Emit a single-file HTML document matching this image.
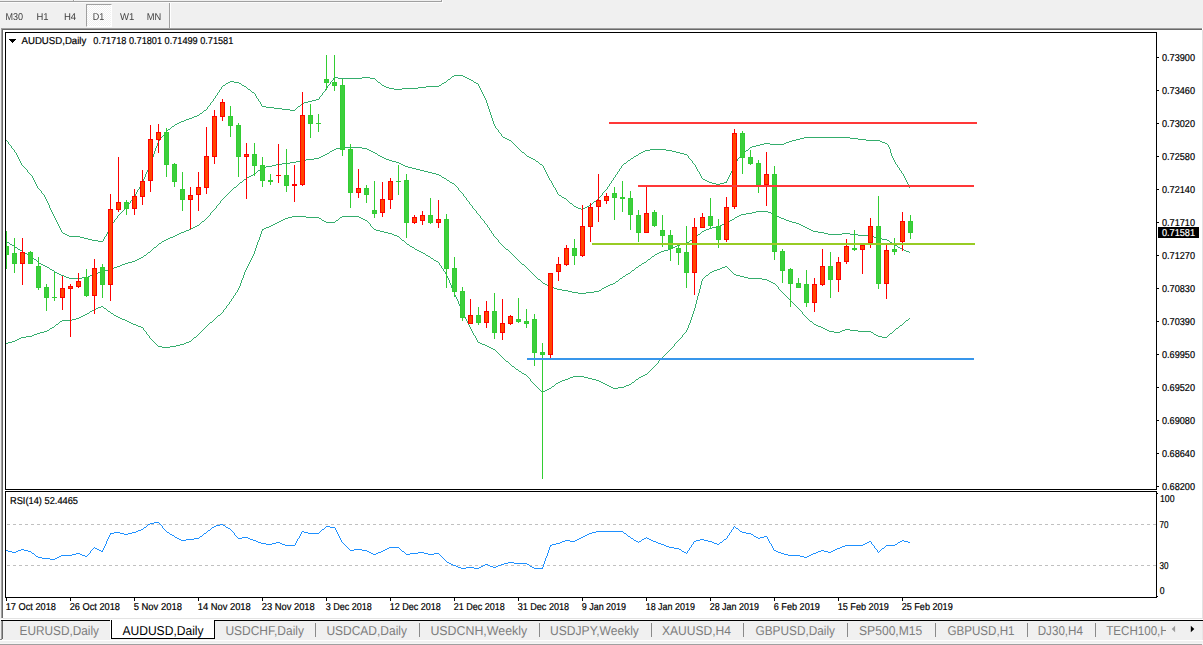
<!DOCTYPE html>
<html><head><meta charset="utf-8"><title>AUDUSD,Daily</title>
<style>
html,body{margin:0;padding:0;}
body{width:1203px;height:645px;overflow:hidden;background:#f0f0f0;position:relative;font-family:"Liberation Sans",sans-serif;}
.a{position:absolute;}
</style></head><body>
<!-- upper toolbar edge -->
<div class="a" style="left:0;top:1px;width:441px;height:1px;background:#a0a0a0"></div>
<div class="a" style="left:0;top:2px;width:443px;height:1px;background:#fbfbfb"></div>
<div class="a" style="left:441px;top:0;width:1px;height:2px;background:#a0a0a0"></div>
<div class="a" style="left:442px;top:0;width:1px;height:3px;background:#fbfbfb"></div>
<div class="a" style="left:73px;top:0;width:1px;height:1px;background:#a0a0a0"></div>
<div class="a" style="left:74px;top:0;width:1px;height:1px;background:#fbfbfb"></div>
<!-- D1 pressed button -->
<div class="a" style="left:86px;top:4px;width:26px;height:23px;background:repeating-conic-gradient(#fff 0% 25%, #f0f0f0 0% 50%) 0 0/2px 2px;box-sizing:border-box;border-top:1px solid #a0a0a0;border-left:1px solid #a0a0a0;border-right:1px solid #fff;border-bottom:1px solid #fff;"></div>
<!-- toolbar separator -->
<div class="a" style="left:169px;top:3px;width:1px;height:25px;background:#a0a0a0"></div>
<div class="a" style="left:170px;top:3px;width:1px;height:25px;background:#fff"></div>
<!-- chart window (sunken) -->
<div class="a" style="left:1px;top:28px;width:1202px;height:590px;background:#a0a0a0"></div>
<div class="a" style="left:2px;top:29px;width:1201px;height:589px;background:#696969"></div>
<div class="a" style="left:3px;top:30px;width:1200px;height:589px;background:#e3e3e3"></div>
<div class="a" style="left:3px;top:30px;width:1199px;height:588px;background:#fff"></div>
<div class="a" style="left:1202px;top:28px;width:1px;height:2px;background:#fff"></div>
<!-- tab bar -->
<div class="a" style="left:0;top:619px;width:1203px;height:1px;background:#fff"></div>
<div class="a" style="left:1px;top:620px;width:1202px;height:1px;background:#000"></div>
<div class="a" style="left:1px;top:621px;width:1px;height:18px;background:#a0a0a0"></div>
<div class="a" style="left:2px;top:621px;width:1px;height:18px;background:#696969"></div>
<div class="a" style="left:0;top:639px;width:2px;height:1px;background:#888"></div>
<div class="a" style="left:0;top:640px;width:1203px;height:1px;background:#fff"></div>
<div class="a" style="left:0;top:643px;width:1203px;height:1px;background:#f6f6f6"></div>
<div class="a" style="left:0;top:644px;width:1202px;height:1px;background:#a0a0a0"></div>
<div class="a" style="left:1202px;top:621px;width:1px;height:19px;background:#e6e6e6"></div>
<!-- active tab -->
<div class="a" style="left:110px;top:620px;width:1px;height:19px;background:#fff"></div>
<div class="a" style="left:111px;top:620px;width:104px;height:19px;background:#fff;box-sizing:border-box;border:1px solid #000;border-top:none;"></div>
<!-- tab separators -->
<div class="a" style="left:315px;top:623px;width:1px;height:14px;background:#8a8a8a"></div><div class="a" style="left:419px;top:623px;width:1px;height:14px;background:#8a8a8a"></div><div class="a" style="left:539px;top:623px;width:1px;height:14px;background:#8a8a8a"></div><div class="a" style="left:651px;top:623px;width:1px;height:14px;background:#8a8a8a"></div><div class="a" style="left:743px;top:623px;width:1px;height:14px;background:#8a8a8a"></div><div class="a" style="left:847px;top:623px;width:1px;height:14px;background:#8a8a8a"></div><div class="a" style="left:935px;top:623px;width:1px;height:14px;background:#8a8a8a"></div><div class="a" style="left:1027px;top:623px;width:1px;height:14px;background:#8a8a8a"></div><div class="a" style="left:1095px;top:623px;width:1px;height:14px;background:#8a8a8a"></div>
<svg class="a" style="left:0;top:0" width="1203" height="645" viewBox="0 0 1203 645">
<defs>
<clipPath id="cm"><rect x="6" y="33" width="1150" height="456"/></clipPath>
<clipPath id="cr"><rect x="6" y="492" width="1150" height="105"/></clipPath>
<clipPath id="ct"><rect x="1100" y="621" width="66" height="18"/></clipPath>
</defs>
<path shape-rendering="crispEdges" d="M9 39h7v1h-7zM10 40h5v1h-5zM11 41h3v1h-3zM12 42h1v1h-1z" fill="#000"/>
<path d="M1190.8 625.8v6.4l3.5-3.2z" fill="#000"/>
<path d="M1175.1 625.8v6.4l-3.4-3.2z" fill="#9c9c9c"/>
<g shape-rendering="crispEdges">
<g clip-path="url(#cm)">
<path d="M6 140h1v1h-1zM7 141h1v1h-1zM8 142h1v2h-1zM9 144h1v1h-1zM10 145h1v1h-1zM11 146h1v2h-1zM12 148h1v1h-1zM13 149h1v1h-1zM14 150h1v2h-1zM15 152h1v1h-1zM16 153h1v2h-1zM17 155h1v2h-1zM18 157h1v2h-1zM19 159h1v2h-1zM20 161h1v2h-1zM21 163h1v2h-1zM22 165h1v1h-1zM23 166h1v1h-1zM24 167h1v1h-1zM25 168h1v1h-1zM26 169h1v1h-1zM27 170h1v2h-1zM28 172h1v1h-1zM29 173h1v1h-1zM30 174h1v1h-1zM31 175h1v1h-1zM32 176h1v2h-1zM33 178h1v2h-1zM34 180h1v2h-1zM35 182h1v2h-1zM36 184h1v2h-1zM37 186h1v2h-1zM38 188h1v1h-1zM39 189h1v1h-1zM40 190h1v1h-1zM41 191h1v2h-1zM42 193h1v1h-1zM43 194h1v1h-1zM44 195h1v2h-1zM45 197h1v2h-1zM46 199h1v2h-1zM47 201h1v2h-1zM48 203h1v2h-1zM49 205h1v3h-1zM50 208h1v2h-1zM51 210h1v2h-1zM52 212h1v2h-1zM53 214h1v2h-1zM54 216h1v2h-1zM55 218h1v2h-1zM56 220h1v2h-1zM57 222h1v2h-1zM58 224h1v2h-1zM59 226h1v2h-1zM60 228h1v2h-1zM61 230h1v2h-1zM62 232h1v1h-1zM63 233h2v1h-2zM65 234h2v1h-2zM67 235h2v1h-2zM69 236h11v1h-11zM80 237h4v1h-4zM84 238h4v1h-4zM88 239h4v1h-4zM92 240h6v1h-6zM98 241h5v1h-5zM103 239h1v2h-1zM104 237h1v2h-1zM105 236h1v1h-1zM106 234h1v2h-1zM107 232h1v2h-1zM108 231h1v1h-1zM109 229h1v2h-1zM110 227h1v2h-1zM111 225h1v2h-1zM112 223h1v2h-1zM113 222h1v1h-1zM114 220h1v2h-1zM115 219h1v1h-1zM116 218h1v1h-1zM117 216h1v2h-1zM118 215h1v1h-1zM119 214h1v1h-1zM120 213h1v1h-1zM121 212h1v1h-1zM122 211h1v1h-1zM123 210h1v1h-1zM124 209h1v1h-1zM125 208h1v1h-1zM126 207h1v1h-1zM127 205h1v2h-1zM128 204h1v1h-1zM129 203h1v1h-1zM130 201h1v2h-1zM131 200h1v1h-1zM132 199h1v1h-1zM133 197h1v2h-1zM134 196h1v1h-1zM135 194h1v2h-1zM136 192h1v2h-1zM137 190h1v2h-1zM138 189h1v1h-1zM139 187h1v2h-1zM140 185h1v2h-1zM141 183h1v2h-1zM142 181h1v2h-1zM143 179h1v2h-1zM144 177h1v2h-1zM145 174h1v3h-1zM146 172h1v2h-1zM147 170h1v2h-1zM148 167h1v3h-1zM149 165h1v2h-1zM150 162h1v3h-1zM151 159h1v3h-1zM152 157h1v2h-1zM153 154h1v3h-1zM154 151h1v3h-1zM155 148h1v3h-1zM156 146h1v2h-1zM157 143h1v3h-1zM158 141h1v2h-1zM159 140h1v1h-1zM160 138h1v2h-1zM161 137h1v1h-1zM162 136h1v1h-1zM163 135h1v1h-1zM164 133h1v2h-1zM165 132h1v1h-1zM166 131h1v1h-1zM167 130h1v1h-1zM168 129h2v1h-2zM170 128h1v1h-1zM171 127h1v1h-1zM172 126h2v1h-2zM174 125h1v1h-1zM175 124h2v1h-2zM177 123h2v1h-2zM179 122h2v1h-2zM181 121h3v1h-3zM184 120h2v1h-2zM186 119h3v1h-3zM189 118h3v1h-3zM192 117h2v1h-2zM194 116h3v1h-3zM197 115h2v1h-2zM199 114h1v1h-1zM200 113h2v1h-2zM202 112h1v1h-1zM203 111h1v1h-1zM204 110h2v1h-2zM206 109h1v1h-1zM207 107h1v2h-1zM208 106h1v1h-1zM209 105h1v1h-1zM210 103h1v2h-1zM211 102h1v1h-1zM212 101h1v1h-1zM213 99h1v2h-1zM214 98h1v1h-1zM215 96h1v2h-1zM216 95h1v1h-1zM217 93h1v2h-1zM218 92h1v1h-1zM219 90h1v2h-1zM220 89h1v1h-1zM221 87h1v2h-1zM222 86h1v1h-1zM223 85h2v1h-2zM225 84h1v1h-1zM226 83h2v1h-2zM228 82h2v1h-2zM230 81h4v1h-4zM234 82h5v1h-5zM239 83h2v1h-2zM241 84h1v1h-1zM242 85h2v1h-2zM244 86h2v1h-2zM246 87h1v1h-1zM247 88h1v1h-1zM248 89h2v1h-2zM250 90h1v1h-1zM251 91h1v1h-1zM252 92h2v1h-2zM254 93h1v1h-1zM255 94h1v2h-1zM256 96h1v2h-1zM257 98h1v1h-1zM258 99h1v2h-1zM259 101h1v1h-1zM260 102h1v2h-1zM261 104h1v2h-1zM262 106h4v1h-4zM266 107h8v1h-8zM274 108h8v1h-8zM282 109h8v1h-8zM290 110h5v1h-5zM295 109h1v1h-1zM296 108h1v1h-1zM297 107h1v1h-1zM298 106h2v1h-2zM300 105h1v1h-1zM301 104h1v1h-1zM302 103h2v1h-2zM304 102h4v1h-4zM308 101h4v1h-4zM312 100h4v1h-4zM316 99h3v1h-3zM319 97h1v2h-1zM320 96h1v1h-1zM321 95h1v1h-1zM322 93h1v2h-1zM323 92h1v1h-1zM324 91h1v1h-1zM325 89h1v2h-1zM326 88h1v1h-1zM327 86h1v2h-1zM328 85h1v1h-1zM329 84h1v1h-1zM330 82h1v2h-1zM331 81h1v1h-1zM332 80h1v1h-1zM333 78h1v2h-1zM334 77h4v1h-4zM338 78h24v1h-24zM362 77h8v1h-8zM370 78h5v1h-5zM375 79h1v1h-1zM376 80h1v1h-1zM377 81h1v1h-1zM378 82h2v1h-2zM380 83h1v1h-1zM381 84h1v1h-1zM382 85h2v1h-2zM384 86h2v1h-2zM386 87h3v1h-3zM389 88h5v1h-5zM394 89h8v1h-8zM402 88h16v1h-16zM418 87h8v1h-8zM426 86h13v1h-13zM439 85h2v1h-2zM441 84h1v1h-1zM442 83h2v1h-2zM444 82h2v1h-2zM446 81h1v1h-1zM447 80h1v1h-1zM448 79h2v1h-2zM450 78h1v1h-1zM451 77h1v1h-1zM452 76h2v1h-2zM454 75h9v1h-9zM463 76h2v1h-2zM465 77h2v1h-2zM467 78h2v1h-2zM469 79h2v1h-2zM471 80h2v1h-2zM473 81h1v1h-1zM474 82h2v1h-2zM476 83h2v1h-2zM478 84h1v2h-1zM479 86h1v2h-1zM480 88h1v2h-1zM481 90h1v2h-1zM482 92h1v2h-1zM483 94h1v2h-1zM484 96h1v2h-1zM485 98h1v2h-1zM486 100h1v3h-1zM487 103h1v3h-1zM488 106h1v3h-1zM489 109h1v3h-1zM490 112h1v3h-1zM491 115h1v3h-1zM492 118h1v3h-1zM493 121h1v3h-1zM494 124h1v2h-1zM495 126h1v2h-1zM496 128h1v1h-1zM497 129h1v1h-1zM498 130h1v2h-1zM499 132h1v1h-1zM500 133h1v1h-1zM501 134h1v2h-1zM502 136h1v1h-1zM503 137h2v1h-2zM505 138h2v1h-2zM507 139h2v1h-2zM509 140h2v1h-2zM511 141h1v1h-1zM512 142h1v1h-1zM513 143h1v1h-1zM514 144h1v1h-1zM515 145h1v1h-1zM516 146h1v1h-1zM517 147h1v1h-1zM518 148h1v1h-1zM519 149h1v1h-1zM520 150h1v1h-1zM521 151h1v1h-1zM522 152h2v1h-2zM524 153h1v1h-1zM525 154h1v1h-1zM526 155h1v1h-1zM527 156h2v1h-2zM529 157h2v1h-2zM531 158h2v1h-2zM533 159h2v1h-2zM535 160h1v1h-1zM536 161h2v1h-2zM538 162h1v1h-1zM539 163h1v1h-1zM540 164h2v1h-2zM542 165h1v1h-1zM543 166h1v2h-1zM544 168h1v2h-1zM545 170h1v2h-1zM546 172h1v2h-1zM547 174h1v2h-1zM548 176h1v2h-1zM549 178h1v2h-1zM550 180h1v1h-1zM551 181h1v2h-1zM552 183h1v2h-1zM553 185h1v2h-1zM554 187h1v1h-1zM555 188h1v2h-1zM556 190h1v2h-1zM557 192h1v2h-1zM558 194h1v1h-1zM559 195h2v1h-2zM561 196h1v1h-1zM562 197h2v1h-2zM564 198h2v1h-2zM566 199h1v1h-1zM567 200h1v1h-1zM568 201h1v1h-1zM569 202h1v1h-1zM570 203h2v1h-2zM572 204h1v1h-1zM573 205h1v1h-1zM574 206h2v1h-2zM576 207h2v1h-2zM578 208h3v1h-3zM581 209h2v1h-2zM583 208h2v1h-2zM585 207h2v1h-2zM587 206h2v1h-2zM589 205h2v1h-2zM591 204h1v1h-1zM592 203h1v1h-1zM593 202h1v1h-1zM594 201h2v1h-2zM596 200h1v1h-1zM597 199h1v1h-1zM598 198h1v1h-1zM599 197h1v1h-1zM600 196h1v1h-1zM601 195h1v1h-1zM602 193h1v2h-1zM603 192h1v1h-1zM604 191h1v1h-1zM605 190h1v1h-1zM606 189h1v1h-1zM607 187h1v2h-1zM608 186h1v1h-1zM609 184h1v2h-1zM610 183h1v1h-1zM611 181h1v2h-1zM612 180h1v1h-1zM613 178h1v2h-1zM614 177h1v1h-1zM615 175h1v2h-1zM616 174h1v1h-1zM617 172h1v2h-1zM618 171h1v1h-1zM619 169h1v2h-1zM620 168h1v1h-1zM621 166h1v2h-1zM622 165h1v1h-1zM623 164h1v1h-1zM624 163h2v1h-2zM626 162h1v1h-1zM627 161h1v1h-1zM628 160h2v1h-2zM630 159h1v1h-1zM631 158h2v1h-2zM633 157h1v1h-1zM634 156h2v1h-2zM636 155h2v1h-2zM638 154h1v1h-1zM639 153h2v1h-2zM641 152h2v1h-2zM643 151h2v1h-2zM645 150h5v1h-5zM650 149h16v1h-16zM666 150h6v1h-6zM672 151h4v1h-4zM676 152h4v1h-4zM680 153h4v1h-4zM684 154h3v1h-3zM687 155h1v1h-1zM688 156h1v2h-1zM689 158h1v1h-1zM690 159h1v1h-1zM691 160h1v1h-1zM692 161h1v2h-1zM693 163h1v1h-1zM694 164h1v1h-1zM695 165h1v2h-1zM696 167h1v2h-1zM697 169h1v2h-1zM698 171h1v1h-1zM699 172h1v2h-1zM700 174h1v2h-1zM701 176h1v2h-1zM702 178h1v1h-1zM703 179h2v1h-2zM705 180h2v1h-2zM707 181h2v1h-2zM709 182h3v1h-3zM712 183h4v1h-4zM716 184h4v1h-4zM720 183h4v1h-4zM724 182h3v1h-3zM726 181h1v1h-1zM727 179h1v2h-1zM728 177h1v2h-1zM729 175h1v2h-1zM730 173h1v2h-1zM731 171h1v2h-1zM732 169h1v2h-1zM733 167h1v2h-1zM734 165h1v2h-1zM735 163h1v2h-1zM736 161h1v2h-1zM737 159h1v2h-1zM738 158h1v1h-1zM739 157h1v1h-1zM740 156h1v1h-1zM741 155h1v1h-1zM742 154h1v1h-1zM743 153h1v1h-1zM744 152h1v1h-1zM745 151h1v1h-1zM746 150h2v1h-2zM748 149h1v1h-1zM749 148h1v1h-1zM750 147h2v1h-2zM752 146h4v1h-4zM756 145h4v1h-4zM760 144h4v1h-4zM764 143h6v1h-6zM770 144h14v1h-14zM784 143h2v1h-2zM786 142h3v1h-3zM789 141h3v1h-3zM792 140h4v1h-4zM796 139h4v1h-4zM800 138h4v1h-4zM804 137h46v1h-46zM850 138h8v1h-8zM858 139h8v1h-8zM866 140h14v1h-14zM880 141h2v1h-2zM882 142h3v1h-3zM885 143h2v1h-2zM887 144h1v1h-1zM888 145h1v2h-1zM889 147h1v2h-1zM890 149h1v4h-1zM891 153h1v3h-1zM892 156h1v2h-1zM893 158h1v2h-1zM894 160h1v2h-1zM895 162h1v2h-1zM896 164h1v1h-1zM897 165h1v2h-1zM898 167h1v1h-1zM899 168h1v2h-1zM900 170h1v1h-1zM901 171h1v2h-1zM902 173h1v1h-1zM903 174h1v2h-1zM904 176h1v2h-1zM905 178h1v2h-1zM906 180h1v2h-1zM907 182h1v2h-1zM908 184h1v3h-1zM909 187h1v1h-1z" fill="#34ad6c"/>
<path d="M6 241h1v1h-1zM7 242h2v1h-2zM9 243h1v1h-1zM10 244h2v1h-2zM12 245h2v1h-2zM14 246h1v1h-1zM15 247h2v1h-2zM17 248h1v1h-1zM18 249h2v1h-2zM20 250h2v1h-2zM22 251h1v1h-1zM23 252h2v1h-2zM25 253h2v1h-2zM27 254h2v1h-2zM29 255h2v1h-2zM31 256h1v1h-1zM32 257h1v1h-1zM33 258h1v1h-1zM34 259h2v1h-2zM36 260h1v1h-1zM37 261h1v1h-1zM38 262h1v1h-1zM39 263h2v1h-2zM41 264h2v1h-2zM43 265h2v1h-2zM45 266h2v1h-2zM47 267h2v1h-2zM49 268h1v1h-1zM50 269h2v1h-2zM52 270h2v1h-2zM54 271h1v1h-1zM55 272h2v1h-2zM57 273h2v1h-2zM59 274h2v1h-2zM61 275h3v1h-3zM64 276h2v1h-2zM66 277h3v1h-3zM69 278h13v1h-13zM82 277h6v1h-6zM88 276h2v1h-2zM90 275h3v1h-3zM93 274h3v1h-3zM96 273h2v1h-2zM98 272h3v1h-3zM101 271h3v1h-3zM104 270h4v1h-4zM108 269h4v1h-4zM112 268h2v1h-2zM114 267h3v1h-3zM117 266h3v1h-3zM120 265h2v1h-2zM122 264h3v1h-3zM125 263h3v1h-3zM128 262h4v1h-4zM132 261h3v1h-3zM135 260h2v1h-2zM137 259h2v1h-2zM139 258h2v1h-2zM141 257h2v1h-2zM143 256h1v1h-1zM144 255h2v1h-2zM146 254h1v1h-1zM147 253h1v1h-1zM148 252h2v1h-2zM150 251h1v1h-1zM151 250h1v1h-1zM152 249h1v1h-1zM153 248h1v1h-1zM154 247h2v1h-2zM156 246h1v1h-1zM157 245h1v1h-1zM158 244h1v1h-1zM159 243h2v1h-2zM161 242h1v1h-1zM162 241h2v1h-2zM164 240h2v1h-2zM166 239h2v1h-2zM168 238h2v1h-2zM170 237h3v1h-3zM173 236h2v1h-2zM175 235h2v1h-2zM177 234h2v1h-2zM179 233h2v1h-2zM181 232h3v1h-3zM184 231h2v1h-2zM186 230h3v1h-3zM189 229h2v1h-2zM191 228h2v1h-2zM193 227h2v1h-2zM195 226h2v1h-2zM197 225h2v1h-2zM199 224h1v1h-1zM200 223h1v1h-1zM201 222h1v1h-1zM202 221h2v1h-2zM204 220h1v1h-1zM205 219h1v1h-1zM206 218h1v1h-1zM207 217h1v1h-1zM208 216h1v1h-1zM209 215h1v1h-1zM210 213h1v2h-1zM211 212h1v1h-1zM212 211h1v1h-1zM213 210h1v1h-1zM214 209h1v1h-1zM215 208h1v1h-1zM216 206h1v2h-1zM217 205h1v1h-1zM218 204h1v1h-1zM219 203h1v1h-1zM220 201h1v2h-1zM221 200h1v1h-1zM222 199h1v1h-1zM223 198h1v1h-1zM224 197h1v1h-1zM225 196h1v1h-1zM226 195h1v1h-1zM227 194h1v1h-1zM228 193h1v1h-1zM229 192h1v1h-1zM230 191h1v1h-1zM231 190h1v1h-1zM232 189h1v1h-1zM233 188h1v1h-1zM234 187h2v1h-2zM236 186h1v1h-1zM237 185h1v1h-1zM238 184h1v1h-1zM239 183h1v1h-1zM240 182h2v1h-2zM242 181h1v1h-1zM243 180h1v1h-1zM244 179h2v1h-2zM246 178h1v1h-1zM247 177h2v1h-2zM249 176h2v1h-2zM251 175h2v1h-2zM253 174h2v1h-2zM255 173h1v1h-1zM256 172h1v1h-1zM257 171h1v1h-1zM258 170h2v1h-2zM260 169h1v1h-1zM261 168h1v1h-1zM262 167h4v1h-4zM266 166h6v1h-6zM272 165h4v1h-4zM276 164h6v1h-6zM282 163h8v1h-8zM290 162h6v1h-6zM296 161h4v1h-4zM300 160h6v1h-6zM306 159h8v1h-8zM314 158h5v1h-5zM319 157h2v1h-2zM321 156h2v1h-2zM323 155h2v1h-2zM325 154h2v1h-2zM327 153h2v1h-2zM329 152h1v1h-1zM330 151h2v1h-2zM332 150h2v1h-2zM334 149h2v1h-2zM336 148h4v1h-4zM340 147h22v1h-22zM362 148h5v1h-5zM367 149h2v1h-2zM369 150h2v1h-2zM371 151h2v1h-2zM373 152h2v1h-2zM375 153h2v1h-2zM377 154h1v1h-1zM378 155h2v1h-2zM380 156h2v1h-2zM382 157h2v1h-2zM384 158h2v1h-2zM386 159h3v1h-3zM389 160h3v1h-3zM392 161h4v1h-4zM396 162h3v1h-3zM399 163h2v1h-2zM401 164h2v1h-2zM403 165h2v1h-2zM405 166h3v1h-3zM408 167h4v1h-4zM412 168h4v1h-4zM416 169h4v1h-4zM420 170h4v1h-4zM424 171h4v1h-4zM428 172h4v1h-4zM432 173h4v1h-4zM436 174h3v1h-3zM439 175h2v1h-2zM441 176h1v1h-1zM442 177h2v1h-2zM444 178h2v1h-2zM446 179h1v1h-1zM447 180h2v1h-2zM449 181h1v1h-1zM450 182h2v1h-2zM452 183h2v1h-2zM454 184h1v1h-1zM455 185h1v1h-1zM456 186h1v1h-1zM457 187h1v1h-1zM458 188h1v2h-1zM459 190h1v1h-1zM460 191h1v1h-1zM461 192h1v1h-1zM462 193h1v1h-1zM463 194h1v2h-1zM464 196h1v1h-1zM465 197h1v1h-1zM466 198h1v2h-1zM467 200h1v1h-1zM468 201h1v1h-1zM469 202h1v2h-1zM470 204h1v1h-1zM471 205h1v1h-1zM472 206h1v2h-1zM473 208h1v1h-1zM474 209h1v1h-1zM475 210h1v1h-1zM476 211h1v2h-1zM477 213h1v1h-1zM478 214h1v1h-1zM479 215h1v1h-1zM480 216h1v2h-1zM481 218h1v1h-1zM482 219h1v1h-1zM483 220h1v1h-1zM484 221h1v2h-1zM485 223h1v1h-1zM486 224h1v1h-1zM487 225h1v2h-1zM488 227h1v1h-1zM489 228h1v2h-1zM490 230h1v1h-1zM491 231h1v2h-1zM492 233h1v1h-1zM493 234h1v2h-1zM494 236h1v1h-1zM495 237h1v1h-1zM496 238h1v1h-1zM497 239h1v1h-1zM498 240h1v2h-1zM499 242h1v1h-1zM500 243h1v1h-1zM501 244h1v1h-1zM502 245h1v1h-1zM503 246h1v1h-1zM504 247h1v1h-1zM505 248h1v1h-1zM506 249h2v1h-2zM508 250h1v1h-1zM509 251h1v1h-1zM510 252h1v1h-1zM511 253h1v1h-1zM512 254h1v1h-1zM513 255h1v1h-1zM514 256h1v1h-1zM515 257h1v1h-1zM516 258h1v1h-1zM517 259h1v1h-1zM518 260h1v1h-1zM519 261h1v1h-1zM520 262h1v1h-1zM521 263h1v1h-1zM522 264h2v1h-2zM524 265h1v1h-1zM525 266h1v1h-1zM526 267h1v1h-1zM527 268h1v1h-1zM528 269h1v1h-1zM529 270h1v1h-1zM530 271h1v1h-1zM531 272h1v1h-1zM532 273h1v1h-1zM533 274h1v1h-1zM534 275h1v1h-1zM535 276h1v1h-1zM536 277h1v1h-1zM537 278h1v1h-1zM538 279h2v1h-2zM540 280h1v1h-1zM541 281h1v1h-1zM542 282h1v1h-1zM543 283h2v1h-2zM545 284h2v1h-2zM547 285h2v1h-2zM549 286h3v1h-3zM552 287h2v1h-2zM554 288h3v1h-3zM557 289h5v1h-5zM562 290h6v1h-6zM568 291h4v1h-4zM572 292h6v1h-6zM578 293h8v1h-8zM586 292h8v1h-8zM594 291h5v1h-5zM599 290h2v1h-2zM601 289h1v1h-1zM602 288h2v1h-2zM604 287h2v1h-2zM606 286h2v1h-2zM608 285h2v1h-2zM610 284h3v1h-3zM613 283h2v1h-2zM615 282h1v1h-1zM616 281h2v1h-2zM618 280h1v1h-1zM619 279h1v1h-1zM620 278h2v1h-2zM622 277h1v1h-1zM623 276h2v1h-2zM625 275h1v1h-1zM626 274h2v1h-2zM628 273h2v1h-2zM630 272h1v1h-1zM631 271h1v1h-1zM632 270h2v1h-2zM634 269h1v1h-1zM635 268h1v1h-1zM636 267h2v1h-2zM638 266h1v1h-1zM639 265h2v1h-2zM641 264h1v1h-1zM642 263h2v1h-2zM644 262h2v1h-2zM646 261h1v1h-1zM647 260h1v1h-1zM648 259h2v1h-2zM650 258h1v1h-1zM651 257h1v1h-1zM652 256h2v1h-2zM654 255h1v1h-1zM655 254h2v1h-2zM657 253h2v1h-2zM659 252h2v1h-2zM661 251h3v1h-3zM664 250h4v1h-4zM668 249h3v1h-3zM671 248h2v1h-2zM673 247h2v1h-2zM675 246h2v1h-2zM677 245h3v1h-3zM680 244h4v1h-4zM684 243h3v1h-3zM687 242h2v1h-2zM689 241h1v1h-1zM690 240h2v1h-2zM692 239h2v1h-2zM694 238h1v1h-1zM695 237h1v1h-1zM696 236h1v1h-1zM697 235h1v1h-1zM698 234h2v1h-2zM700 233h1v1h-1zM701 232h1v1h-1zM702 231h2v1h-2zM704 230h2v1h-2zM706 229h3v1h-3zM709 228h3v1h-3zM712 227h4v1h-4zM716 226h4v1h-4zM720 225h2v1h-2zM722 224h3v1h-3zM725 223h2v1h-2zM727 222h2v1h-2zM729 221h1v1h-1zM730 220h2v1h-2zM732 219h2v1h-2zM734 218h1v1h-1zM735 217h2v1h-2zM737 216h2v1h-2zM739 215h2v1h-2zM741 214h5v1h-5zM746 213h6v1h-6zM752 212h4v1h-4zM756 211h12v1h-12zM768 212h3v1h-3zM771 213h2v1h-2zM773 214h2v1h-2zM775 215h2v1h-2zM777 216h2v1h-2zM779 217h2v1h-2zM781 218h3v1h-3zM784 219h2v1h-2zM786 220h3v1h-3zM789 221h3v1h-3zM792 222h4v1h-4zM796 223h3v1h-3zM799 224h2v1h-2zM801 225h2v1h-2zM803 226h2v1h-2zM805 227h2v1h-2zM807 228h2v1h-2zM809 229h2v1h-2zM811 230h2v1h-2zM813 231h5v1h-5zM818 232h6v1h-6zM824 233h4v1h-4zM828 234h14v1h-14zM842 233h8v1h-8zM850 234h8v1h-8zM858 235h14v1h-14zM872 236h2v1h-2zM874 237h3v1h-3zM877 238h5v1h-5zM882 239h5v1h-5zM887 240h2v1h-2zM889 241h1v1h-1zM890 242h2v1h-2zM892 243h2v1h-2zM894 244h1v1h-1zM895 245h2v1h-2zM897 246h1v1h-1zM898 247h2v1h-2zM900 248h2v1h-2zM902 249h2v1h-2zM904 250h2v1h-2zM906 251h3v1h-3zM909 252h1v1h-1z" fill="#34ad6c"/>
<path d="M6 343h2v1h-2zM8 342h4v1h-4zM12 341h3v1h-3zM15 340h2v1h-2zM17 339h2v1h-2zM19 338h2v1h-2zM21 337h5v1h-5zM26 336h6v1h-6zM32 335h2v1h-2zM34 334h3v1h-3zM37 333h3v1h-3zM40 332h4v1h-4zM44 331h3v1h-3zM47 330h2v1h-2zM49 329h1v1h-1zM50 328h2v1h-2zM52 327h2v1h-2zM54 326h1v1h-1zM55 325h1v1h-1zM56 324h2v1h-2zM58 323h1v1h-1zM59 322h1v1h-1zM60 321h2v1h-2zM62 320h10v1h-10zM72 319h4v1h-4zM76 318h3v1h-3zM79 317h2v1h-2zM81 316h2v1h-2zM83 315h2v1h-2zM85 314h2v1h-2zM87 313h2v1h-2zM89 312h1v1h-1zM90 311h2v1h-2zM92 310h2v1h-2zM94 309h2v1h-2zM96 308h2v1h-2zM98 307h3v1h-3zM101 306h2v1h-2zM103 307h1v1h-1zM104 308h2v1h-2zM106 309h1v1h-1zM107 310h1v1h-1zM108 311h2v1h-2zM110 312h1v1h-1zM111 313h2v1h-2zM113 314h1v1h-1zM114 315h2v1h-2zM116 316h2v1h-2zM118 317h2v1h-2zM120 318h2v1h-2zM122 319h3v1h-3zM125 320h2v1h-2zM127 321h2v1h-2zM129 322h2v1h-2zM131 323h2v1h-2zM133 324h3v1h-3zM136 325h2v1h-2zM138 326h3v1h-3zM141 327h2v1h-2zM143 328h1v2h-1zM144 330h1v1h-1zM145 331h1v1h-1zM146 332h1v2h-1zM147 334h1v1h-1zM148 335h1v1h-1zM149 336h1v2h-1zM150 338h1v1h-1zM151 339h1v1h-1zM152 340h1v1h-1zM153 341h1v1h-1zM154 342h1v1h-1zM155 343h1v1h-1zM156 344h1v1h-1zM157 345h1v1h-1zM158 346h4v1h-4zM162 347h8v1h-8zM170 346h6v1h-6zM176 345h4v1h-4zM180 344h4v1h-4zM184 343h2v1h-2zM186 342h3v1h-3zM189 341h2v1h-2zM191 340h1v1h-1zM192 339h1v1h-1zM193 338h1v1h-1zM194 337h2v1h-2zM196 336h1v1h-1zM197 335h1v1h-1zM198 334h1v1h-1zM199 333h1v1h-1zM200 332h1v1h-1zM201 331h1v1h-1zM202 330h1v1h-1zM203 329h1v1h-1zM204 328h1v1h-1zM205 327h1v1h-1zM206 326h1v1h-1zM207 325h1v1h-1zM208 324h1v1h-1zM209 323h1v1h-1zM210 322h2v1h-2zM212 321h1v1h-1zM213 320h1v1h-1zM214 319h1v1h-1zM215 318h1v1h-1zM216 317h1v1h-1zM217 316h1v1h-1zM218 315h2v1h-2zM220 314h1v1h-1zM221 313h1v1h-1zM222 312h1v1h-1zM223 310h1v2h-1zM224 309h1v1h-1zM225 308h1v1h-1zM226 306h1v2h-1zM227 305h1v1h-1zM228 304h1v1h-1zM229 302h1v2h-1zM230 301h1v1h-1zM231 299h1v2h-1zM232 298h1v1h-1zM233 296h1v2h-1zM234 295h1v1h-1zM235 293h1v2h-1zM236 292h1v1h-1zM237 290h1v2h-1zM238 288h1v2h-1zM239 286h1v2h-1zM240 283h1v3h-1zM241 280h1v3h-1zM242 278h1v2h-1zM243 275h1v3h-1zM244 272h1v3h-1zM245 270h1v2h-1zM246 268h1v2h-1zM247 266h1v2h-1zM248 264h1v2h-1zM249 262h1v2h-1zM250 260h1v2h-1zM251 258h1v2h-1zM252 256h1v2h-1zM253 254h1v2h-1zM254 251h1v3h-1zM255 248h1v3h-1zM256 245h1v3h-1zM257 242h1v3h-1zM258 240h1v2h-1zM259 237h1v3h-1zM260 234h1v3h-1zM261 231h1v3h-1zM262 229h2v1h-2zM262 230h1v1h-1zM264 228h2v1h-2zM266 227h3v1h-3zM269 226h2v1h-2zM271 225h2v1h-2zM273 224h2v1h-2zM275 223h2v1h-2zM277 222h2v1h-2zM279 221h2v1h-2zM281 220h2v1h-2zM283 219h2v1h-2zM285 218h3v1h-3zM288 217h4v1h-4zM292 216h14v1h-14zM306 217h13v1h-13zM319 218h2v1h-2zM321 219h1v1h-1zM322 220h2v1h-2zM324 221h2v1h-2zM326 222h9v1h-9zM335 221h1v1h-1zM336 220h2v1h-2zM338 219h1v1h-1zM339 218h1v1h-1zM340 217h2v1h-2zM342 216h17v1h-17zM359 217h2v1h-2zM361 218h2v1h-2zM363 219h2v1h-2zM365 220h2v1h-2zM367 221h1v1h-1zM368 222h1v1h-1zM369 223h1v1h-1zM370 224h1v2h-1zM371 226h1v1h-1zM372 227h1v1h-1zM373 228h1v1h-1zM374 229h2v1h-2zM376 230h4v1h-4zM380 231h4v1h-4zM384 232h4v1h-4zM388 233h4v1h-4zM392 234h2v1h-2zM394 235h3v1h-3zM397 236h2v1h-2zM399 237h1v1h-1zM400 238h1v1h-1zM401 239h1v1h-1zM402 240h2v1h-2zM404 241h1v1h-1zM405 242h1v1h-1zM406 243h1v1h-1zM407 244h2v1h-2zM409 245h1v1h-1zM410 246h2v1h-2zM412 247h2v1h-2zM414 248h1v1h-1zM415 249h2v1h-2zM417 250h2v1h-2zM419 251h2v1h-2zM421 252h2v1h-2zM423 253h2v1h-2zM425 254h1v1h-1zM426 255h2v1h-2zM428 256h2v1h-2zM430 257h1v1h-1zM431 258h2v1h-2zM433 259h1v1h-1zM434 260h2v1h-2zM436 261h2v1h-2zM438 262h1v1h-1zM439 263h1v2h-1zM440 265h1v1h-1zM441 266h1v2h-1zM442 268h1v1h-1zM443 269h1v2h-1zM444 271h1v1h-1zM445 272h1v2h-1zM446 274h1v2h-1zM447 276h1v2h-1zM448 278h1v2h-1zM449 280h1v3h-1zM450 283h1v2h-1zM451 285h1v3h-1zM452 288h1v2h-1zM453 290h1v2h-1zM454 292h1v3h-1zM455 295h1v2h-1zM456 297h1v2h-1zM457 299h1v2h-1zM458 301h1v3h-1zM459 304h1v2h-1zM460 306h1v2h-1zM461 308h1v2h-1zM462 310h1v3h-1zM463 313h1v2h-1zM464 315h1v2h-1zM465 317h1v2h-1zM466 319h1v2h-1zM467 321h1v2h-1zM468 323h1v2h-1zM469 325h1v2h-1zM470 327h1v2h-1zM471 329h1v2h-1zM472 331h1v2h-1zM473 333h1v2h-1zM474 335h1v1h-1zM475 336h1v2h-1zM476 338h1v2h-1zM477 340h1v2h-1zM478 342h2v1h-2zM480 343h2v1h-2zM482 344h3v1h-3zM485 345h2v1h-2zM487 346h2v1h-2zM489 347h2v1h-2zM491 348h2v1h-2zM493 349h2v1h-2zM495 350h1v1h-1zM496 351h1v1h-1zM497 352h1v1h-1zM498 353h1v1h-1zM499 354h1v1h-1zM500 355h1v1h-1zM501 356h1v1h-1zM502 357h1v1h-1zM503 358h1v1h-1zM504 359h1v1h-1zM505 360h1v1h-1zM506 361h2v1h-2zM508 362h1v1h-1zM509 363h1v1h-1zM510 364h1v1h-1zM511 365h1v1h-1zM512 366h2v1h-2zM514 367h1v1h-1zM515 368h1v1h-1zM516 369h2v1h-2zM518 370h1v1h-1zM519 371h2v1h-2zM521 372h1v1h-1zM522 373h2v1h-2zM524 374h2v1h-2zM526 375h1v1h-1zM527 376h1v1h-1zM528 377h1v1h-1zM529 378h1v1h-1zM530 379h1v2h-1zM531 381h1v1h-1zM532 382h1v1h-1zM533 383h1v1h-1zM534 384h1v1h-1zM535 385h1v1h-1zM536 386h1v1h-1zM537 387h1v1h-1zM538 388h1v1h-1zM539 389h1v1h-1zM540 390h1v1h-1zM541 391h1v1h-1zM542 392h1v1h-1zM543 391h2v1h-2zM545 390h2v1h-2zM547 389h2v1h-2zM549 388h2v1h-2zM551 387h1v1h-1zM552 386h2v1h-2zM554 385h1v1h-1zM555 384h1v1h-1zM556 383h2v1h-2zM558 382h2v1h-2zM560 381h2v1h-2zM562 380h3v1h-3zM565 379h3v1h-3zM568 378h2v1h-2zM570 377h3v1h-3zM573 376h11v1h-11zM584 377h4v1h-4zM588 378h4v1h-4zM592 379h4v1h-4zM596 380h3v1h-3zM599 381h2v1h-2zM601 382h2v1h-2zM603 383h2v1h-2zM605 384h2v1h-2zM607 385h2v1h-2zM609 386h2v1h-2zM611 387h2v1h-2zM613 388h5v1h-5zM618 387h6v1h-6zM624 386h2v1h-2zM626 385h3v1h-3zM629 384h2v1h-2zM631 383h1v1h-1zM632 382h2v1h-2zM634 381h1v1h-1zM635 380h1v1h-1zM636 379h2v1h-2zM638 378h1v1h-1zM639 377h2v1h-2zM641 376h2v1h-2zM643 375h2v1h-2zM645 374h2v1h-2zM647 373h1v1h-1zM648 372h1v1h-1zM649 371h1v1h-1zM650 370h1v1h-1zM651 369h1v1h-1zM652 368h1v1h-1zM653 367h1v1h-1zM654 366h1v1h-1zM655 365h1v1h-1zM656 364h1v1h-1zM657 363h1v1h-1zM658 361h1v2h-1zM659 360h1v1h-1zM660 359h1v1h-1zM661 358h1v1h-1zM662 357h1v1h-1zM663 356h1v1h-1zM664 355h1v1h-1zM665 354h1v1h-1zM666 353h1v1h-1zM667 352h1v1h-1zM668 351h1v1h-1zM669 350h1v1h-1zM670 349h1v1h-1zM671 348h1v1h-1zM672 347h1v1h-1zM673 346h1v1h-1zM674 344h1v2h-1zM675 343h1v1h-1zM676 342h1v1h-1zM677 341h1v1h-1zM678 340h1v1h-1zM679 339h1v1h-1zM680 338h1v1h-1zM681 337h1v1h-1zM682 335h1v2h-1zM683 334h1v1h-1zM684 333h1v1h-1zM685 332h1v1h-1zM686 330h1v2h-1zM687 328h1v2h-1zM688 325h1v3h-1zM689 323h1v2h-1zM690 320h1v3h-1zM691 317h1v3h-1zM692 314h1v3h-1zM693 311h1v3h-1zM694 308h1v3h-1zM695 304h1v4h-1zM696 300h1v4h-1zM697 296h1v4h-1zM698 293h1v3h-1zM699 289h1v4h-1zM700 285h1v4h-1zM701 281h1v4h-1zM702 279h1v2h-1zM703 278h1v1h-1zM704 277h1v1h-1zM705 276h1v1h-1zM706 275h2v1h-2zM708 274h1v1h-1zM709 273h1v1h-1zM710 272h2v1h-2zM712 271h2v1h-2zM714 270h3v1h-3zM717 269h3v1h-3zM720 268h2v1h-2zM722 267h3v1h-3zM725 266h2v1h-2zM727 267h1v1h-1zM728 268h1v1h-1zM729 269h1v1h-1zM730 270h1v1h-1zM731 271h1v1h-1zM732 272h1v1h-1zM733 273h1v1h-1zM734 274h2v1h-2zM736 275h4v1h-4zM740 276h4v1h-4zM744 277h4v1h-4zM748 278h14v1h-14zM762 279h5v1h-5zM767 280h2v1h-2zM769 281h2v1h-2zM771 282h2v1h-2zM773 283h2v1h-2zM775 284h1v1h-1zM776 285h1v1h-1zM777 286h1v1h-1zM778 287h1v2h-1zM779 289h1v1h-1zM780 290h1v1h-1zM781 291h1v1h-1zM782 292h1v1h-1zM783 293h1v1h-1zM784 294h1v1h-1zM785 295h1v1h-1zM786 296h1v1h-1zM787 297h1v1h-1zM788 298h1v1h-1zM789 299h1v1h-1zM790 300h1v1h-1zM791 301h1v1h-1zM792 302h1v1h-1zM793 303h1v1h-1zM794 304h1v1h-1zM795 305h1v1h-1zM796 306h1v1h-1zM797 307h1v1h-1zM798 308h1v1h-1zM799 309h1v1h-1zM800 310h1v1h-1zM801 311h1v1h-1zM802 312h1v2h-1zM803 314h1v1h-1zM804 315h1v1h-1zM805 316h1v1h-1zM806 317h1v1h-1zM807 318h1v1h-1zM808 319h1v1h-1zM809 320h1v1h-1zM810 321h2v1h-2zM812 322h1v1h-1zM813 323h1v1h-1zM814 324h2v1h-2zM816 325h2v1h-2zM818 326h3v1h-3zM821 327h2v1h-2zM823 328h2v1h-2zM825 329h2v1h-2zM827 330h2v1h-2zM829 331h5v1h-5zM834 332h6v1h-6zM840 331h2v1h-2zM842 330h3v1h-3zM845 329h5v1h-5zM850 330h8v1h-8zM858 331h13v1h-13zM871 332h2v1h-2zM873 333h1v1h-1zM874 334h2v1h-2zM876 335h2v1h-2zM878 336h4v1h-4zM882 337h5v1h-5zM887 336h1v1h-1zM888 335h1v1h-1zM889 334h1v1h-1zM890 333h2v1h-2zM892 332h1v1h-1zM893 331h1v1h-1zM894 330h1v1h-1zM895 329h1v1h-1zM896 328h2v1h-2zM898 327h1v1h-1zM899 326h1v1h-1zM900 325h2v1h-2zM902 324h1v1h-1zM903 323h1v1h-1zM904 322h1v1h-1zM905 321h1v1h-1zM906 320h2v1h-2zM908 319h1v1h-1zM909 318h1v1h-1z" fill="#34ad6c"/>
<rect x="6" y="231" width="1" height="38" fill="#32cd32"/>
<rect x="4" y="246" width="5" height="9" fill="#32cd32"/>
<rect x="5" y="247" width="3" height="7" fill="#3ccf3c"/>
<rect x="14" y="238" width="1" height="35" fill="#32cd32"/>
<rect x="12" y="253" width="5" height="11" fill="#32cd32"/>
<rect x="13" y="254" width="3" height="9" fill="#3ccf3c"/>
<rect x="22" y="238" width="1" height="47" fill="#ff0000"/>
<rect x="20" y="252" width="5" height="12" fill="#ff0000"/>
<rect x="21" y="253" width="3" height="10" fill="#ff4500"/>
<rect x="30" y="251" width="1" height="13" fill="#32cd32"/>
<rect x="28" y="252" width="5" height="12" fill="#32cd32"/>
<rect x="29" y="253" width="3" height="10" fill="#3ccf3c"/>
<rect x="38" y="257" width="1" height="33" fill="#32cd32"/>
<rect x="36" y="266" width="5" height="22" fill="#32cd32"/>
<rect x="37" y="267" width="3" height="20" fill="#3ccf3c"/>
<rect x="46" y="284" width="1" height="27" fill="#32cd32"/>
<rect x="44" y="287" width="5" height="11" fill="#32cd32"/>
<rect x="45" y="288" width="3" height="9" fill="#3ccf3c"/>
<rect x="54" y="272" width="1" height="29" fill="#32cd32"/>
<rect x="52" y="297" width="5" height="1" fill="#32cd32"/>
<rect x="62" y="276" width="1" height="34" fill="#ff0000"/>
<rect x="60" y="288" width="5" height="10" fill="#ff0000"/>
<rect x="61" y="289" width="3" height="8" fill="#ff4500"/>
<rect x="70" y="284" width="1" height="53" fill="#ff0000"/>
<rect x="68" y="286" width="5" height="3" fill="#ff0000"/>
<rect x="69" y="287" width="3" height="1" fill="#ff4500"/>
<rect x="78" y="273" width="1" height="15" fill="#ff0000"/>
<rect x="76" y="281" width="5" height="6" fill="#ff0000"/>
<rect x="77" y="282" width="3" height="4" fill="#ff4500"/>
<rect x="86" y="269" width="1" height="28" fill="#32cd32"/>
<rect x="84" y="277" width="5" height="19" fill="#32cd32"/>
<rect x="85" y="278" width="3" height="17" fill="#3ccf3c"/>
<rect x="94" y="259" width="1" height="55" fill="#ff0000"/>
<rect x="92" y="268" width="5" height="28" fill="#ff0000"/>
<rect x="93" y="269" width="3" height="26" fill="#ff4500"/>
<rect x="102" y="264" width="1" height="34" fill="#32cd32"/>
<rect x="100" y="267" width="5" height="18" fill="#32cd32"/>
<rect x="101" y="268" width="3" height="16" fill="#3ccf3c"/>
<rect x="110" y="194" width="1" height="107" fill="#ff0000"/>
<rect x="108" y="209" width="5" height="76" fill="#ff0000"/>
<rect x="109" y="210" width="3" height="74" fill="#ff4500"/>
<rect x="118" y="157" width="1" height="55" fill="#ff0000"/>
<rect x="116" y="202" width="5" height="8" fill="#ff0000"/>
<rect x="117" y="203" width="3" height="6" fill="#ff4500"/>
<rect x="126" y="200" width="1" height="15" fill="#32cd32"/>
<rect x="124" y="202" width="5" height="7" fill="#32cd32"/>
<rect x="125" y="203" width="3" height="5" fill="#3ccf3c"/>
<rect x="134" y="189" width="1" height="26" fill="#ff0000"/>
<rect x="132" y="196" width="5" height="13" fill="#ff0000"/>
<rect x="133" y="197" width="3" height="11" fill="#ff4500"/>
<rect x="142" y="170" width="1" height="35" fill="#ff0000"/>
<rect x="140" y="181" width="5" height="16" fill="#ff0000"/>
<rect x="141" y="182" width="3" height="14" fill="#ff4500"/>
<rect x="150" y="125" width="1" height="67" fill="#ff0000"/>
<rect x="148" y="139" width="5" height="42" fill="#ff0000"/>
<rect x="149" y="140" width="3" height="40" fill="#ff4500"/>
<rect x="158" y="124" width="1" height="29" fill="#ff0000"/>
<rect x="156" y="132" width="5" height="8" fill="#ff0000"/>
<rect x="157" y="133" width="3" height="6" fill="#ff4500"/>
<rect x="166" y="128" width="1" height="49" fill="#32cd32"/>
<rect x="164" y="132" width="5" height="33" fill="#32cd32"/>
<rect x="165" y="133" width="3" height="31" fill="#3ccf3c"/>
<rect x="174" y="163" width="1" height="24" fill="#32cd32"/>
<rect x="172" y="164" width="5" height="18" fill="#32cd32"/>
<rect x="173" y="165" width="3" height="16" fill="#3ccf3c"/>
<rect x="182" y="172" width="1" height="39" fill="#32cd32"/>
<rect x="180" y="189" width="5" height="11" fill="#32cd32"/>
<rect x="181" y="190" width="3" height="9" fill="#3ccf3c"/>
<rect x="190" y="187" width="1" height="42" fill="#ff0000"/>
<rect x="188" y="195" width="5" height="5" fill="#ff0000"/>
<rect x="189" y="196" width="3" height="3" fill="#ff4500"/>
<rect x="198" y="172" width="1" height="39" fill="#ff0000"/>
<rect x="196" y="187" width="5" height="8" fill="#ff0000"/>
<rect x="197" y="188" width="3" height="6" fill="#ff4500"/>
<rect x="206" y="127" width="1" height="67" fill="#ff0000"/>
<rect x="204" y="156" width="5" height="32" fill="#ff0000"/>
<rect x="205" y="157" width="3" height="30" fill="#ff4500"/>
<rect x="214" y="110" width="1" height="54" fill="#ff0000"/>
<rect x="212" y="116" width="5" height="41" fill="#ff0000"/>
<rect x="213" y="117" width="3" height="39" fill="#ff4500"/>
<rect x="222" y="99" width="1" height="22" fill="#ff0000"/>
<rect x="220" y="102" width="5" height="15" fill="#ff0000"/>
<rect x="221" y="103" width="3" height="13" fill="#ff4500"/>
<rect x="230" y="106" width="1" height="31" fill="#32cd32"/>
<rect x="228" y="116" width="5" height="10" fill="#32cd32"/>
<rect x="229" y="117" width="3" height="8" fill="#3ccf3c"/>
<rect x="238" y="123" width="1" height="54" fill="#32cd32"/>
<rect x="236" y="125" width="5" height="32" fill="#32cd32"/>
<rect x="237" y="126" width="3" height="30" fill="#3ccf3c"/>
<rect x="246" y="143" width="1" height="56" fill="#ff0000"/>
<rect x="244" y="154" width="5" height="3" fill="#ff0000"/>
<rect x="245" y="155" width="3" height="1" fill="#ff4500"/>
<rect x="254" y="143" width="1" height="33" fill="#32cd32"/>
<rect x="252" y="154" width="5" height="12" fill="#32cd32"/>
<rect x="253" y="155" width="3" height="10" fill="#3ccf3c"/>
<rect x="262" y="157" width="1" height="30" fill="#32cd32"/>
<rect x="260" y="165" width="5" height="16" fill="#32cd32"/>
<rect x="261" y="166" width="3" height="14" fill="#3ccf3c"/>
<rect x="270" y="174" width="1" height="11" fill="#32cd32"/>
<rect x="268" y="180" width="5" height="2" fill="#32cd32"/>
<rect x="278" y="144" width="1" height="39" fill="#ff0000"/>
<rect x="276" y="175" width="5" height="1" fill="#ff0000"/>
<rect x="286" y="149" width="1" height="43" fill="#32cd32"/>
<rect x="284" y="175" width="5" height="11" fill="#32cd32"/>
<rect x="285" y="176" width="3" height="9" fill="#3ccf3c"/>
<rect x="294" y="165" width="1" height="37" fill="#ff0000"/>
<rect x="292" y="184" width="5" height="2" fill="#ff0000"/>
<rect x="302" y="92" width="1" height="94" fill="#ff0000"/>
<rect x="300" y="115" width="5" height="70" fill="#ff0000"/>
<rect x="301" y="116" width="3" height="68" fill="#ff4500"/>
<rect x="310" y="104" width="1" height="34" fill="#32cd32"/>
<rect x="308" y="115" width="5" height="9" fill="#32cd32"/>
<rect x="309" y="116" width="3" height="7" fill="#3ccf3c"/>
<rect x="318" y="114" width="1" height="18" fill="#32cd32"/>
<rect x="316" y="123" width="5" height="1" fill="#32cd32"/>
<rect x="326" y="55" width="1" height="35" fill="#32cd32"/>
<rect x="324" y="79" width="5" height="4" fill="#32cd32"/>
<rect x="325" y="80" width="3" height="2" fill="#3ccf3c"/>
<rect x="334" y="55" width="1" height="36" fill="#32cd32"/>
<rect x="332" y="82" width="5" height="4" fill="#32cd32"/>
<rect x="333" y="83" width="3" height="2" fill="#3ccf3c"/>
<rect x="342" y="79" width="1" height="77" fill="#32cd32"/>
<rect x="340" y="85" width="5" height="65" fill="#32cd32"/>
<rect x="341" y="86" width="3" height="63" fill="#3ccf3c"/>
<rect x="350" y="144" width="1" height="64" fill="#32cd32"/>
<rect x="348" y="149" width="5" height="44" fill="#32cd32"/>
<rect x="349" y="150" width="3" height="42" fill="#3ccf3c"/>
<rect x="358" y="169" width="1" height="29" fill="#ff0000"/>
<rect x="356" y="188" width="5" height="5" fill="#ff0000"/>
<rect x="357" y="189" width="3" height="3" fill="#ff4500"/>
<rect x="366" y="185" width="1" height="18" fill="#32cd32"/>
<rect x="364" y="188" width="5" height="7" fill="#32cd32"/>
<rect x="365" y="189" width="3" height="5" fill="#3ccf3c"/>
<rect x="374" y="181" width="1" height="37" fill="#32cd32"/>
<rect x="372" y="210" width="5" height="4" fill="#32cd32"/>
<rect x="373" y="211" width="3" height="2" fill="#3ccf3c"/>
<rect x="382" y="182" width="1" height="35" fill="#ff0000"/>
<rect x="380" y="199" width="5" height="14" fill="#ff0000"/>
<rect x="381" y="200" width="3" height="12" fill="#ff4500"/>
<rect x="390" y="178" width="1" height="31" fill="#ff0000"/>
<rect x="388" y="181" width="5" height="19" fill="#ff0000"/>
<rect x="389" y="182" width="3" height="17" fill="#ff4500"/>
<rect x="398" y="165" width="1" height="30" fill="#32cd32"/>
<rect x="396" y="181" width="5" height="1" fill="#32cd32"/>
<rect x="406" y="174" width="1" height="64" fill="#32cd32"/>
<rect x="404" y="180" width="5" height="43" fill="#32cd32"/>
<rect x="405" y="181" width="3" height="41" fill="#3ccf3c"/>
<rect x="414" y="215" width="1" height="9" fill="#ff0000"/>
<rect x="412" y="217" width="5" height="6" fill="#ff0000"/>
<rect x="413" y="218" width="3" height="4" fill="#ff4500"/>
<rect x="422" y="211" width="1" height="14" fill="#ff0000"/>
<rect x="420" y="215" width="5" height="6" fill="#ff0000"/>
<rect x="421" y="216" width="3" height="4" fill="#ff4500"/>
<rect x="430" y="198" width="1" height="26" fill="#32cd32"/>
<rect x="428" y="215" width="5" height="8" fill="#32cd32"/>
<rect x="429" y="216" width="3" height="6" fill="#3ccf3c"/>
<rect x="438" y="200" width="1" height="28" fill="#ff0000"/>
<rect x="436" y="219" width="5" height="4" fill="#ff0000"/>
<rect x="437" y="220" width="3" height="2" fill="#ff4500"/>
<rect x="446" y="214" width="1" height="74" fill="#32cd32"/>
<rect x="444" y="219" width="5" height="50" fill="#32cd32"/>
<rect x="445" y="220" width="3" height="48" fill="#3ccf3c"/>
<rect x="454" y="257" width="1" height="40" fill="#32cd32"/>
<rect x="452" y="268" width="5" height="24" fill="#32cd32"/>
<rect x="453" y="269" width="3" height="22" fill="#3ccf3c"/>
<rect x="462" y="287" width="1" height="34" fill="#32cd32"/>
<rect x="460" y="291" width="5" height="27" fill="#32cd32"/>
<rect x="461" y="292" width="3" height="25" fill="#3ccf3c"/>
<rect x="470" y="299" width="1" height="25" fill="#ff0000"/>
<rect x="468" y="315" width="5" height="9" fill="#ff0000"/>
<rect x="469" y="316" width="3" height="7" fill="#ff4500"/>
<rect x="478" y="307" width="1" height="18" fill="#32cd32"/>
<rect x="476" y="315" width="5" height="8" fill="#32cd32"/>
<rect x="477" y="316" width="3" height="6" fill="#3ccf3c"/>
<rect x="486" y="301" width="1" height="27" fill="#ff0000"/>
<rect x="484" y="311" width="5" height="12" fill="#ff0000"/>
<rect x="485" y="312" width="3" height="10" fill="#ff4500"/>
<rect x="494" y="293" width="1" height="46" fill="#32cd32"/>
<rect x="492" y="311" width="5" height="22" fill="#32cd32"/>
<rect x="493" y="312" width="3" height="20" fill="#3ccf3c"/>
<rect x="502" y="299" width="1" height="41" fill="#ff0000"/>
<rect x="500" y="323" width="5" height="10" fill="#ff0000"/>
<rect x="501" y="324" width="3" height="8" fill="#ff4500"/>
<rect x="510" y="315" width="1" height="10" fill="#ff0000"/>
<rect x="508" y="316" width="5" height="8" fill="#ff0000"/>
<rect x="509" y="317" width="3" height="6" fill="#ff4500"/>
<rect x="518" y="298" width="1" height="25" fill="#32cd32"/>
<rect x="516" y="319" width="5" height="3" fill="#32cd32"/>
<rect x="517" y="320" width="3" height="1" fill="#3ccf3c"/>
<rect x="526" y="309" width="1" height="19" fill="#32cd32"/>
<rect x="524" y="321" width="5" height="3" fill="#32cd32"/>
<rect x="525" y="322" width="3" height="1" fill="#3ccf3c"/>
<rect x="534" y="314" width="1" height="52" fill="#32cd32"/>
<rect x="532" y="319" width="5" height="34" fill="#32cd32"/>
<rect x="533" y="320" width="3" height="32" fill="#3ccf3c"/>
<rect x="542" y="343" width="1" height="136" fill="#32cd32"/>
<rect x="540" y="352" width="5" height="3" fill="#32cd32"/>
<rect x="541" y="353" width="3" height="1" fill="#3ccf3c"/>
<rect x="550" y="273" width="1" height="85" fill="#ff0000"/>
<rect x="548" y="273" width="5" height="82" fill="#ff0000"/>
<rect x="549" y="274" width="3" height="80" fill="#ff4500"/>
<rect x="558" y="257" width="1" height="24" fill="#ff0000"/>
<rect x="556" y="264" width="5" height="8" fill="#ff0000"/>
<rect x="557" y="265" width="3" height="6" fill="#ff4500"/>
<rect x="566" y="245" width="1" height="21" fill="#ff0000"/>
<rect x="564" y="248" width="5" height="17" fill="#ff0000"/>
<rect x="565" y="249" width="3" height="15" fill="#ff4500"/>
<rect x="574" y="239" width="1" height="26" fill="#32cd32"/>
<rect x="572" y="248" width="5" height="8" fill="#32cd32"/>
<rect x="573" y="249" width="3" height="6" fill="#3ccf3c"/>
<rect x="582" y="205" width="1" height="52" fill="#ff0000"/>
<rect x="580" y="226" width="5" height="30" fill="#ff0000"/>
<rect x="581" y="227" width="3" height="28" fill="#ff4500"/>
<rect x="590" y="203" width="1" height="39" fill="#ff0000"/>
<rect x="588" y="207" width="5" height="20" fill="#ff0000"/>
<rect x="589" y="208" width="3" height="18" fill="#ff4500"/>
<rect x="598" y="174" width="1" height="48" fill="#ff0000"/>
<rect x="596" y="200" width="5" height="7" fill="#ff0000"/>
<rect x="597" y="201" width="3" height="5" fill="#ff4500"/>
<rect x="606" y="193" width="1" height="11" fill="#ff0000"/>
<rect x="604" y="196" width="5" height="5" fill="#ff0000"/>
<rect x="605" y="197" width="3" height="3" fill="#ff4500"/>
<rect x="614" y="187" width="1" height="33" fill="#32cd32"/>
<rect x="612" y="193" width="5" height="5" fill="#32cd32"/>
<rect x="613" y="194" width="3" height="3" fill="#3ccf3c"/>
<rect x="622" y="181" width="1" height="31" fill="#32cd32"/>
<rect x="620" y="197" width="5" height="2" fill="#32cd32"/>
<rect x="630" y="191" width="1" height="39" fill="#32cd32"/>
<rect x="628" y="198" width="5" height="17" fill="#32cd32"/>
<rect x="629" y="199" width="3" height="15" fill="#3ccf3c"/>
<rect x="638" y="210" width="1" height="32" fill="#32cd32"/>
<rect x="636" y="215" width="5" height="18" fill="#32cd32"/>
<rect x="637" y="216" width="3" height="16" fill="#3ccf3c"/>
<rect x="646" y="186" width="1" height="47" fill="#ff0000"/>
<rect x="644" y="213" width="5" height="20" fill="#ff0000"/>
<rect x="645" y="214" width="3" height="18" fill="#ff4500"/>
<rect x="654" y="210" width="1" height="17" fill="#32cd32"/>
<rect x="652" y="212" width="5" height="14" fill="#32cd32"/>
<rect x="653" y="213" width="3" height="12" fill="#3ccf3c"/>
<rect x="662" y="215" width="1" height="32" fill="#32cd32"/>
<rect x="660" y="230" width="5" height="6" fill="#32cd32"/>
<rect x="661" y="231" width="3" height="4" fill="#3ccf3c"/>
<rect x="670" y="230" width="1" height="31" fill="#32cd32"/>
<rect x="668" y="235" width="5" height="14" fill="#32cd32"/>
<rect x="669" y="236" width="3" height="12" fill="#3ccf3c"/>
<rect x="678" y="245" width="1" height="20" fill="#32cd32"/>
<rect x="676" y="248" width="5" height="5" fill="#32cd32"/>
<rect x="677" y="249" width="3" height="3" fill="#3ccf3c"/>
<rect x="686" y="226" width="1" height="62" fill="#32cd32"/>
<rect x="684" y="252" width="5" height="21" fill="#32cd32"/>
<rect x="685" y="253" width="3" height="19" fill="#3ccf3c"/>
<rect x="694" y="218" width="1" height="77" fill="#ff0000"/>
<rect x="692" y="227" width="5" height="46" fill="#ff0000"/>
<rect x="693" y="228" width="3" height="44" fill="#ff4500"/>
<rect x="702" y="213" width="1" height="15" fill="#ff0000"/>
<rect x="700" y="217" width="5" height="11" fill="#ff0000"/>
<rect x="701" y="218" width="3" height="9" fill="#ff4500"/>
<rect x="710" y="198" width="1" height="30" fill="#32cd32"/>
<rect x="708" y="216" width="5" height="10" fill="#32cd32"/>
<rect x="709" y="217" width="3" height="8" fill="#3ccf3c"/>
<rect x="718" y="219" width="1" height="29" fill="#32cd32"/>
<rect x="716" y="226" width="5" height="14" fill="#32cd32"/>
<rect x="717" y="227" width="3" height="12" fill="#3ccf3c"/>
<rect x="726" y="197" width="1" height="45" fill="#ff0000"/>
<rect x="724" y="207" width="5" height="33" fill="#ff0000"/>
<rect x="725" y="208" width="3" height="31" fill="#ff4500"/>
<rect x="734" y="129" width="1" height="80" fill="#ff0000"/>
<rect x="732" y="133" width="5" height="74" fill="#ff0000"/>
<rect x="733" y="134" width="3" height="72" fill="#ff4500"/>
<rect x="742" y="131" width="1" height="43" fill="#32cd32"/>
<rect x="740" y="133" width="5" height="25" fill="#32cd32"/>
<rect x="741" y="134" width="3" height="23" fill="#3ccf3c"/>
<rect x="750" y="150" width="1" height="15" fill="#32cd32"/>
<rect x="748" y="157" width="5" height="7" fill="#32cd32"/>
<rect x="749" y="158" width="3" height="5" fill="#3ccf3c"/>
<rect x="758" y="160" width="1" height="33" fill="#32cd32"/>
<rect x="756" y="163" width="5" height="22" fill="#32cd32"/>
<rect x="757" y="164" width="3" height="20" fill="#3ccf3c"/>
<rect x="766" y="152" width="1" height="54" fill="#ff0000"/>
<rect x="764" y="174" width="5" height="11" fill="#ff0000"/>
<rect x="765" y="175" width="3" height="9" fill="#ff4500"/>
<rect x="774" y="166" width="1" height="94" fill="#32cd32"/>
<rect x="772" y="174" width="5" height="78" fill="#32cd32"/>
<rect x="773" y="175" width="3" height="76" fill="#3ccf3c"/>
<rect x="782" y="249" width="1" height="34" fill="#32cd32"/>
<rect x="780" y="251" width="5" height="20" fill="#32cd32"/>
<rect x="781" y="252" width="3" height="18" fill="#3ccf3c"/>
<rect x="790" y="268" width="1" height="39" fill="#32cd32"/>
<rect x="788" y="269" width="5" height="15" fill="#32cd32"/>
<rect x="789" y="270" width="3" height="13" fill="#3ccf3c"/>
<rect x="798" y="278" width="1" height="10" fill="#32cd32"/>
<rect x="796" y="283" width="5" height="5" fill="#32cd32"/>
<rect x="797" y="284" width="3" height="3" fill="#3ccf3c"/>
<rect x="806" y="270" width="1" height="37" fill="#32cd32"/>
<rect x="804" y="284" width="5" height="19" fill="#32cd32"/>
<rect x="805" y="285" width="3" height="17" fill="#3ccf3c"/>
<rect x="814" y="278" width="1" height="34" fill="#ff0000"/>
<rect x="812" y="284" width="5" height="19" fill="#ff0000"/>
<rect x="813" y="285" width="3" height="17" fill="#ff4500"/>
<rect x="822" y="249" width="1" height="37" fill="#ff0000"/>
<rect x="820" y="266" width="5" height="19" fill="#ff0000"/>
<rect x="821" y="267" width="3" height="17" fill="#ff4500"/>
<rect x="830" y="252" width="1" height="46" fill="#32cd32"/>
<rect x="828" y="266" width="5" height="14" fill="#32cd32"/>
<rect x="829" y="267" width="3" height="12" fill="#3ccf3c"/>
<rect x="838" y="257" width="1" height="35" fill="#ff0000"/>
<rect x="836" y="262" width="5" height="18" fill="#ff0000"/>
<rect x="837" y="263" width="3" height="16" fill="#ff4500"/>
<rect x="846" y="239" width="1" height="25" fill="#ff0000"/>
<rect x="844" y="246" width="5" height="16" fill="#ff0000"/>
<rect x="845" y="247" width="3" height="14" fill="#ff4500"/>
<rect x="854" y="230" width="1" height="21" fill="#32cd32"/>
<rect x="852" y="248" width="5" height="2" fill="#32cd32"/>
<rect x="862" y="244" width="1" height="30" fill="#ff0000"/>
<rect x="860" y="245" width="5" height="5" fill="#ff0000"/>
<rect x="861" y="246" width="3" height="3" fill="#ff4500"/>
<rect x="870" y="218" width="1" height="30" fill="#ff0000"/>
<rect x="868" y="226" width="5" height="17" fill="#ff0000"/>
<rect x="869" y="227" width="3" height="15" fill="#ff4500"/>
<rect x="878" y="196" width="1" height="93" fill="#32cd32"/>
<rect x="876" y="226" width="5" height="58" fill="#32cd32"/>
<rect x="877" y="227" width="3" height="56" fill="#3ccf3c"/>
<rect x="886" y="245" width="1" height="54" fill="#ff0000"/>
<rect x="884" y="250" width="5" height="34" fill="#ff0000"/>
<rect x="885" y="251" width="3" height="32" fill="#ff4500"/>
<rect x="894" y="238" width="1" height="17" fill="#32cd32"/>
<rect x="892" y="249" width="5" height="3" fill="#32cd32"/>
<rect x="893" y="250" width="3" height="1" fill="#3ccf3c"/>
<rect x="902" y="212" width="1" height="39" fill="#ff0000"/>
<rect x="900" y="221" width="5" height="21" fill="#ff0000"/>
<rect x="901" y="222" width="3" height="19" fill="#ff4500"/>
<rect x="910" y="215" width="1" height="24" fill="#32cd32"/>
<rect x="908" y="221" width="5" height="12" fill="#32cd32"/>
<rect x="909" y="222" width="3" height="10" fill="#3ccf3c"/>
<rect x="609" y="122" width="368" height="2" fill="#ff3838"/>
<rect x="638" y="185" width="336" height="2" fill="#ff3838"/>
<rect x="592" y="243" width="383" height="2" fill="#98cc24"/>
<rect x="527" y="358" width="447" height="2" fill="#3896eb"/>
</g>
<g clip-path="url(#cr)">
<path d="M7 524h3v1h-3zM13 524h3v1h-3zM19 524h3v1h-3zM25 524h3v1h-3zM31 524h3v1h-3zM37 524h3v1h-3zM43 524h3v1h-3zM49 524h3v1h-3zM55 524h3v1h-3zM61 524h3v1h-3zM67 524h3v1h-3zM73 524h3v1h-3zM79 524h3v1h-3zM85 524h3v1h-3zM91 524h3v1h-3zM97 524h3v1h-3zM103 524h3v1h-3zM109 524h3v1h-3zM115 524h3v1h-3zM121 524h3v1h-3zM127 524h3v1h-3zM133 524h3v1h-3zM139 524h3v1h-3zM145 524h3v1h-3zM151 524h3v1h-3zM157 524h3v1h-3zM163 524h3v1h-3zM169 524h3v1h-3zM175 524h3v1h-3zM181 524h3v1h-3zM187 524h3v1h-3zM193 524h3v1h-3zM199 524h3v1h-3zM205 524h3v1h-3zM211 524h3v1h-3zM217 524h3v1h-3zM223 524h3v1h-3zM229 524h3v1h-3zM235 524h3v1h-3zM241 524h3v1h-3zM247 524h3v1h-3zM253 524h3v1h-3zM259 524h3v1h-3zM265 524h3v1h-3zM271 524h3v1h-3zM277 524h3v1h-3zM283 524h3v1h-3zM289 524h3v1h-3zM295 524h3v1h-3zM301 524h3v1h-3zM307 524h3v1h-3zM313 524h3v1h-3zM319 524h3v1h-3zM325 524h3v1h-3zM331 524h3v1h-3zM337 524h3v1h-3zM343 524h3v1h-3zM349 524h3v1h-3zM355 524h3v1h-3zM361 524h3v1h-3zM367 524h3v1h-3zM373 524h3v1h-3zM379 524h3v1h-3zM385 524h3v1h-3zM391 524h3v1h-3zM397 524h3v1h-3zM403 524h3v1h-3zM409 524h3v1h-3zM415 524h3v1h-3zM421 524h3v1h-3zM427 524h3v1h-3zM433 524h3v1h-3zM439 524h3v1h-3zM445 524h3v1h-3zM451 524h3v1h-3zM457 524h3v1h-3zM463 524h3v1h-3zM469 524h3v1h-3zM475 524h3v1h-3zM481 524h3v1h-3zM487 524h3v1h-3zM493 524h3v1h-3zM499 524h3v1h-3zM505 524h3v1h-3zM511 524h3v1h-3zM517 524h3v1h-3zM523 524h3v1h-3zM529 524h3v1h-3zM535 524h3v1h-3zM541 524h3v1h-3zM547 524h3v1h-3zM553 524h3v1h-3zM559 524h3v1h-3zM565 524h3v1h-3zM571 524h3v1h-3zM577 524h3v1h-3zM583 524h3v1h-3zM589 524h3v1h-3zM595 524h3v1h-3zM601 524h3v1h-3zM607 524h3v1h-3zM613 524h3v1h-3zM619 524h3v1h-3zM625 524h3v1h-3zM631 524h3v1h-3zM637 524h3v1h-3zM643 524h3v1h-3zM649 524h3v1h-3zM655 524h3v1h-3zM661 524h3v1h-3zM667 524h3v1h-3zM673 524h3v1h-3zM679 524h3v1h-3zM685 524h3v1h-3zM691 524h3v1h-3zM697 524h3v1h-3zM703 524h3v1h-3zM709 524h3v1h-3zM715 524h3v1h-3zM721 524h3v1h-3zM727 524h3v1h-3zM733 524h3v1h-3zM739 524h3v1h-3zM745 524h3v1h-3zM751 524h3v1h-3zM757 524h3v1h-3zM763 524h3v1h-3zM769 524h3v1h-3zM775 524h3v1h-3zM781 524h3v1h-3zM787 524h3v1h-3zM793 524h3v1h-3zM799 524h3v1h-3zM805 524h3v1h-3zM811 524h3v1h-3zM817 524h3v1h-3zM823 524h3v1h-3zM829 524h3v1h-3zM835 524h3v1h-3zM841 524h3v1h-3zM847 524h3v1h-3zM853 524h3v1h-3zM859 524h3v1h-3zM865 524h3v1h-3zM871 524h3v1h-3zM877 524h3v1h-3zM883 524h3v1h-3zM889 524h3v1h-3zM895 524h3v1h-3zM901 524h3v1h-3zM907 524h3v1h-3zM913 524h3v1h-3zM919 524h3v1h-3zM925 524h3v1h-3zM931 524h3v1h-3zM937 524h3v1h-3zM943 524h3v1h-3zM949 524h3v1h-3zM955 524h3v1h-3zM961 524h3v1h-3zM967 524h3v1h-3zM973 524h3v1h-3zM979 524h3v1h-3zM985 524h3v1h-3zM991 524h3v1h-3zM997 524h3v1h-3zM1003 524h3v1h-3zM1009 524h3v1h-3zM1015 524h3v1h-3zM1021 524h3v1h-3zM1027 524h3v1h-3zM1033 524h3v1h-3zM1039 524h3v1h-3zM1045 524h3v1h-3zM1051 524h3v1h-3zM1057 524h3v1h-3zM1063 524h3v1h-3zM1069 524h3v1h-3zM1075 524h3v1h-3zM1081 524h3v1h-3zM1087 524h3v1h-3zM1093 524h3v1h-3zM1099 524h3v1h-3zM1105 524h3v1h-3zM1111 524h3v1h-3zM1117 524h3v1h-3zM1123 524h3v1h-3zM1129 524h3v1h-3zM1135 524h3v1h-3zM1141 524h3v1h-3zM1147 524h3v1h-3zM1153 524h3v1h-3z" fill="#c0c0c0"/>
<path d="M7 565h3v1h-3zM13 565h3v1h-3zM19 565h3v1h-3zM25 565h3v1h-3zM31 565h3v1h-3zM37 565h3v1h-3zM43 565h3v1h-3zM49 565h3v1h-3zM55 565h3v1h-3zM61 565h3v1h-3zM67 565h3v1h-3zM73 565h3v1h-3zM79 565h3v1h-3zM85 565h3v1h-3zM91 565h3v1h-3zM97 565h3v1h-3zM103 565h3v1h-3zM109 565h3v1h-3zM115 565h3v1h-3zM121 565h3v1h-3zM127 565h3v1h-3zM133 565h3v1h-3zM139 565h3v1h-3zM145 565h3v1h-3zM151 565h3v1h-3zM157 565h3v1h-3zM163 565h3v1h-3zM169 565h3v1h-3zM175 565h3v1h-3zM181 565h3v1h-3zM187 565h3v1h-3zM193 565h3v1h-3zM199 565h3v1h-3zM205 565h3v1h-3zM211 565h3v1h-3zM217 565h3v1h-3zM223 565h3v1h-3zM229 565h3v1h-3zM235 565h3v1h-3zM241 565h3v1h-3zM247 565h3v1h-3zM253 565h3v1h-3zM259 565h3v1h-3zM265 565h3v1h-3zM271 565h3v1h-3zM277 565h3v1h-3zM283 565h3v1h-3zM289 565h3v1h-3zM295 565h3v1h-3zM301 565h3v1h-3zM307 565h3v1h-3zM313 565h3v1h-3zM319 565h3v1h-3zM325 565h3v1h-3zM331 565h3v1h-3zM337 565h3v1h-3zM343 565h3v1h-3zM349 565h3v1h-3zM355 565h3v1h-3zM361 565h3v1h-3zM367 565h3v1h-3zM373 565h3v1h-3zM379 565h3v1h-3zM385 565h3v1h-3zM391 565h3v1h-3zM397 565h3v1h-3zM403 565h3v1h-3zM409 565h3v1h-3zM415 565h3v1h-3zM421 565h3v1h-3zM427 565h3v1h-3zM433 565h3v1h-3zM439 565h3v1h-3zM445 565h3v1h-3zM451 565h3v1h-3zM457 565h3v1h-3zM463 565h3v1h-3zM469 565h3v1h-3zM475 565h3v1h-3zM481 565h3v1h-3zM487 565h3v1h-3zM493 565h3v1h-3zM499 565h3v1h-3zM505 565h3v1h-3zM511 565h3v1h-3zM517 565h3v1h-3zM523 565h3v1h-3zM529 565h3v1h-3zM535 565h3v1h-3zM541 565h3v1h-3zM547 565h3v1h-3zM553 565h3v1h-3zM559 565h3v1h-3zM565 565h3v1h-3zM571 565h3v1h-3zM577 565h3v1h-3zM583 565h3v1h-3zM589 565h3v1h-3zM595 565h3v1h-3zM601 565h3v1h-3zM607 565h3v1h-3zM613 565h3v1h-3zM619 565h3v1h-3zM625 565h3v1h-3zM631 565h3v1h-3zM637 565h3v1h-3zM643 565h3v1h-3zM649 565h3v1h-3zM655 565h3v1h-3zM661 565h3v1h-3zM667 565h3v1h-3zM673 565h3v1h-3zM679 565h3v1h-3zM685 565h3v1h-3zM691 565h3v1h-3zM697 565h3v1h-3zM703 565h3v1h-3zM709 565h3v1h-3zM715 565h3v1h-3zM721 565h3v1h-3zM727 565h3v1h-3zM733 565h3v1h-3zM739 565h3v1h-3zM745 565h3v1h-3zM751 565h3v1h-3zM757 565h3v1h-3zM763 565h3v1h-3zM769 565h3v1h-3zM775 565h3v1h-3zM781 565h3v1h-3zM787 565h3v1h-3zM793 565h3v1h-3zM799 565h3v1h-3zM805 565h3v1h-3zM811 565h3v1h-3zM817 565h3v1h-3zM823 565h3v1h-3zM829 565h3v1h-3zM835 565h3v1h-3zM841 565h3v1h-3zM847 565h3v1h-3zM853 565h3v1h-3zM859 565h3v1h-3zM865 565h3v1h-3zM871 565h3v1h-3zM877 565h3v1h-3zM883 565h3v1h-3zM889 565h3v1h-3zM895 565h3v1h-3zM901 565h3v1h-3zM907 565h3v1h-3zM913 565h3v1h-3zM919 565h3v1h-3zM925 565h3v1h-3zM931 565h3v1h-3zM937 565h3v1h-3zM943 565h3v1h-3zM949 565h3v1h-3zM955 565h3v1h-3zM961 565h3v1h-3zM967 565h3v1h-3zM973 565h3v1h-3zM979 565h3v1h-3zM985 565h3v1h-3zM991 565h3v1h-3zM997 565h3v1h-3zM1003 565h3v1h-3zM1009 565h3v1h-3zM1015 565h3v1h-3zM1021 565h3v1h-3zM1027 565h3v1h-3zM1033 565h3v1h-3zM1039 565h3v1h-3zM1045 565h3v1h-3zM1051 565h3v1h-3zM1057 565h3v1h-3zM1063 565h3v1h-3zM1069 565h3v1h-3zM1075 565h3v1h-3zM1081 565h3v1h-3zM1087 565h3v1h-3zM1093 565h3v1h-3zM1099 565h3v1h-3zM1105 565h3v1h-3zM1111 565h3v1h-3zM1117 565h3v1h-3zM1123 565h3v1h-3zM1129 565h3v1h-3zM1135 565h3v1h-3zM1141 565h3v1h-3zM1147 565h3v1h-3zM1153 565h3v1h-3z" fill="#c0c0c0"/>
<path d="M6 550h2v1h-2zM8 551h4v1h-4zM12 552h4v1h-4zM16 551h2v1h-2zM18 550h3v1h-3zM21 549h3v1h-3zM24 550h4v1h-4zM28 551h3v1h-3zM31 552h1v1h-1zM32 553h2v1h-2zM34 554h1v1h-1zM35 555h1v1h-1zM36 556h2v1h-2zM38 557h4v1h-4zM42 558h8v1h-8zM50 559h5v1h-5zM55 558h2v1h-2zM57 557h2v1h-2zM59 556h2v1h-2zM61 555h11v1h-11zM72 554h4v1h-4zM76 553h4v1h-4zM80 554h2v1h-2zM82 555h3v1h-3zM85 556h2v1h-2zM87 555h1v1h-1zM88 554h1v1h-1zM89 553h1v1h-1zM90 551h1v2h-1zM91 550h1v1h-1zM92 549h1v1h-1zM93 548h1v1h-1zM94 547h1v1h-1zM95 548h2v1h-2zM97 549h2v1h-2zM99 550h2v1h-2zM101 551h2v1h-2zM102 550h1v1h-1zM103 548h1v2h-1zM104 546h1v2h-1zM105 544h1v2h-1zM106 541h1v3h-1zM107 539h1v2h-1zM108 537h1v2h-1zM109 535h1v2h-1zM110 533h4v1h-4zM110 534h1v1h-1zM114 532h6v1h-6zM120 533h4v1h-4zM124 534h4v1h-4zM128 533h4v1h-4zM132 532h4v1h-4zM136 531h2v1h-2zM138 530h3v1h-3zM141 529h2v1h-2zM143 528h1v1h-1zM144 527h2v1h-2zM146 526h1v1h-1zM147 525h1v1h-1zM148 524h2v1h-2zM150 523h4v1h-4zM154 522h5v1h-5zM159 523h1v1h-1zM160 524h1v1h-1zM161 525h1v1h-1zM162 526h1v2h-1zM163 528h1v1h-1zM164 529h1v1h-1zM165 530h1v1h-1zM166 531h1v1h-1zM167 532h2v1h-2zM169 533h1v1h-1zM170 534h2v1h-2zM172 535h2v1h-2zM174 536h1v1h-1zM175 537h2v1h-2zM177 538h2v1h-2zM179 539h2v1h-2zM181 540h5v1h-5zM186 539h8v1h-8zM194 538h5v1h-5zM199 537h1v1h-1zM200 536h2v1h-2zM202 535h1v1h-1zM203 534h1v1h-1zM204 533h2v1h-2zM206 532h1v1h-1zM207 531h1v1h-1zM208 530h2v1h-2zM210 529h1v1h-1zM211 528h1v1h-1zM212 527h2v1h-2zM214 526h2v1h-2zM216 525h4v1h-4zM220 524h3v1h-3zM223 525h2v1h-2zM225 526h1v1h-1zM226 527h2v1h-2zM228 528h2v1h-2zM230 529h1v1h-1zM231 530h1v1h-1zM232 531h1v1h-1zM233 532h1v1h-1zM234 533h1v2h-1zM235 535h1v1h-1zM236 536h1v1h-1zM237 537h1v1h-1zM238 538h4v1h-4zM242 537h6v1h-6zM248 538h2v1h-2zM250 539h3v1h-3zM253 540h3v1h-3zM256 541h2v1h-2zM258 542h3v1h-3zM261 543h5v1h-5zM266 544h6v1h-6zM272 543h4v1h-4zM276 542h4v1h-4zM280 543h2v1h-2zM282 544h3v1h-3zM285 545h10v1h-10zM295 543h1v2h-1zM296 541h1v2h-1zM297 539h1v2h-1zM298 538h1v1h-1zM299 536h1v2h-1zM300 534h1v2h-1zM301 532h1v2h-1zM302 531h2v1h-2zM304 532h4v1h-4zM308 533h11v1h-11zM319 532h1v1h-1zM320 531h1v1h-1zM321 530h1v1h-1zM322 529h2v1h-2zM324 528h1v1h-1zM325 527h1v1h-1zM326 526h4v1h-4zM330 527h5v1h-5zM335 528h1v2h-1zM336 530h1v2h-1zM337 532h1v2h-1zM338 534h1v2h-1zM339 536h1v2h-1zM340 538h1v2h-1zM341 540h1v2h-1zM342 542h1v1h-1zM343 543h1v1h-1zM344 544h1v1h-1zM345 545h1v1h-1zM346 546h1v1h-1zM347 547h1v1h-1zM348 548h1v1h-1zM349 549h1v1h-1zM350 550h4v1h-4zM354 549h8v1h-8zM362 550h5v1h-5zM367 551h2v1h-2zM369 552h2v1h-2zM371 553h2v1h-2zM373 554h3v1h-3zM376 553h2v1h-2zM378 552h3v1h-3zM381 551h2v1h-2zM383 550h2v1h-2zM385 549h2v1h-2zM387 548h2v1h-2zM389 547h10v1h-10zM399 548h1v1h-1zM400 549h1v1h-1zM401 550h1v1h-1zM402 551h2v1h-2zM404 552h1v1h-1zM405 553h1v1h-1zM406 554h4v1h-4zM410 553h8v1h-8zM418 552h6v1h-6zM424 553h4v1h-4zM428 554h6v1h-6zM434 553h5v1h-5zM439 554h1v1h-1zM440 555h1v1h-1zM441 556h1v1h-1zM442 557h1v1h-1zM443 558h1v1h-1zM444 559h1v1h-1zM445 560h1v1h-1zM446 561h1v1h-1zM447 562h2v1h-2zM449 563h2v1h-2zM451 564h2v1h-2zM453 565h3v1h-3zM456 566h2v1h-2zM458 567h3v1h-3zM461 568h5v1h-5zM466 567h8v1h-8zM474 568h5v1h-5zM479 567h2v1h-2zM481 566h2v1h-2zM483 565h2v1h-2zM485 564h3v1h-3zM488 565h2v1h-2zM490 566h3v1h-3zM493 567h3v1h-3zM496 566h2v1h-2zM498 565h3v1h-3zM501 564h3v1h-3zM504 563h4v1h-4zM508 562h6v1h-6zM514 563h13v1h-13zM527 564h2v1h-2zM529 565h1v1h-1zM530 566h2v1h-2zM532 567h2v1h-2zM534 568h9v1h-9zM542 567h1v1h-1zM543 564h1v3h-1zM544 561h1v3h-1zM545 558h1v3h-1zM546 556h1v2h-1zM547 553h1v3h-1zM548 550h1v3h-1zM549 547h1v3h-1zM550 545h2v1h-2zM550 546h1v1h-1zM552 544h4v1h-4zM556 543h4v1h-4zM560 542h2v1h-2zM562 541h3v1h-3zM565 540h5v1h-5zM570 541h5v1h-5zM575 540h2v1h-2zM577 539h2v1h-2zM579 538h2v1h-2zM581 537h2v1h-2zM583 536h2v1h-2zM585 535h2v1h-2zM587 534h2v1h-2zM589 533h3v1h-3zM592 532h4v1h-4zM596 531h27v1h-27zM623 532h1v1h-1zM624 533h2v1h-2zM626 534h1v1h-1zM627 535h1v1h-1zM628 536h2v1h-2zM630 537h1v1h-1zM631 538h2v1h-2zM633 539h1v1h-1zM634 540h2v1h-2zM636 541h2v1h-2zM638 542h1v1h-1zM639 541h2v1h-2zM641 540h1v1h-1zM642 539h2v1h-2zM644 538h2v1h-2zM646 537h1v1h-1zM647 538h2v1h-2zM649 539h2v1h-2zM651 540h2v1h-2zM653 541h3v1h-3zM656 542h2v1h-2zM658 543h3v1h-3zM661 544h3v1h-3zM664 545h2v1h-2zM666 546h3v1h-3zM669 547h5v1h-5zM674 548h5v1h-5zM679 549h2v1h-2zM681 550h1v1h-1zM682 551h2v1h-2zM684 552h2v1h-2zM686 553h1v1h-1zM687 551h1v2h-1zM688 550h1v1h-1zM689 548h1v2h-1zM690 547h1v1h-1zM691 545h1v2h-1zM692 544h1v1h-1zM693 542h1v2h-1zM694 541h2v1h-2zM696 540h4v1h-4zM700 539h4v1h-4zM704 540h4v1h-4zM708 541h4v1h-4zM712 542h2v1h-2zM714 543h3v1h-3zM717 544h2v1h-2zM719 543h1v1h-1zM720 542h2v1h-2zM722 541h1v1h-1zM723 540h1v1h-1zM724 539h2v1h-2zM726 538h1v1h-1zM727 536h1v2h-1zM728 535h1v1h-1zM729 533h1v2h-1zM730 532h1v1h-1zM731 530h1v2h-1zM732 529h1v1h-1zM733 527h1v2h-1zM734 526h1v1h-1zM735 527h1v1h-1zM736 528h2v1h-2zM738 529h1v1h-1zM739 530h1v1h-1zM740 531h2v1h-2zM742 532h4v1h-4zM746 533h5v1h-5zM751 534h2v1h-2zM753 535h1v1h-1zM754 536h2v1h-2zM756 537h2v1h-2zM758 538h2v1h-2zM760 537h4v1h-4zM764 536h3v1h-3zM767 537h1v2h-1zM768 539h1v2h-1zM769 541h1v2h-1zM770 543h1v1h-1zM771 544h1v2h-1zM772 546h1v2h-1zM773 548h1v2h-1zM774 550h2v1h-2zM776 551h2v1h-2zM778 552h3v1h-3zM781 553h3v1h-3zM784 554h4v1h-4zM788 555h12v1h-12zM800 556h4v1h-4zM804 557h3v1h-3zM807 556h2v1h-2zM809 555h2v1h-2zM811 554h2v1h-2zM813 553h3v1h-3zM816 552h2v1h-2zM818 551h3v1h-3zM821 550h3v1h-3zM824 551h4v1h-4zM828 552h3v1h-3zM831 551h2v1h-2zM833 550h2v1h-2zM835 549h2v1h-2zM837 548h3v1h-3zM840 547h2v1h-2zM842 546h3v1h-3zM845 545h18v1h-18zM863 544h2v1h-2zM865 543h2v1h-2zM867 542h2v1h-2zM869 541h2v1h-2zM871 542h1v2h-1zM872 544h1v1h-1zM873 545h1v1h-1zM874 546h1v2h-1zM875 548h1v1h-1zM876 549h1v1h-1zM877 550h1v2h-1zM878 552h1v1h-1zM879 551h1v1h-1zM880 550h1v1h-1zM881 549h1v1h-1zM882 548h2v1h-2zM884 547h1v1h-1zM885 546h1v1h-1zM886 545h9v1h-9zM895 544h2v1h-2zM897 543h1v1h-1zM898 542h2v1h-2zM900 541h2v1h-2zM902 540h2v1h-2zM904 541h4v1h-4zM908 542h2v1h-2z" fill="#1e90ff"/>
</g>
<rect x="5" y="32" width="1152" height="1" fill="#000"/>
<rect x="5" y="489" width="1152" height="1" fill="#000"/>
<rect x="5" y="32" width="1" height="458" fill="#000"/>
<rect x="1156" y="32" width="1" height="458" fill="#000"/>
<rect x="5" y="491" width="1152" height="1" fill="#000"/>
<rect x="5" y="597" width="1152" height="1" fill="#000"/>
<rect x="5" y="491" width="1" height="107" fill="#000"/>
<rect x="1156" y="491" width="1" height="107" fill="#000"/>
<rect x="1157" y="57" width="2" height="1" fill="#000"/>
<rect x="1157" y="90" width="2" height="1" fill="#000"/>
<rect x="1157" y="123" width="2" height="1" fill="#000"/>
<rect x="1157" y="156" width="2" height="1" fill="#000"/>
<rect x="1157" y="189" width="2" height="1" fill="#000"/>
<rect x="1157" y="222" width="2" height="1" fill="#000"/>
<rect x="1157" y="255" width="2" height="1" fill="#000"/>
<rect x="1157" y="288" width="2" height="1" fill="#000"/>
<rect x="1157" y="321" width="2" height="1" fill="#000"/>
<rect x="1157" y="354" width="2" height="1" fill="#000"/>
<rect x="1157" y="387" width="2" height="1" fill="#000"/>
<rect x="1157" y="420" width="2" height="1" fill="#000"/>
<rect x="1157" y="453" width="2" height="1" fill="#000"/>
<rect x="1157" y="486" width="2" height="1" fill="#000"/>
<rect x="1157" y="493" width="1" height="1" fill="#000"/>
<rect x="1157" y="596" width="1" height="1" fill="#000"/>
<rect x="6" y="598" width="1" height="3" fill="#000"/>
<rect x="70" y="598" width="1" height="3" fill="#000"/>
<rect x="134" y="598" width="1" height="3" fill="#000"/>
<rect x="198" y="598" width="1" height="3" fill="#000"/>
<rect x="262" y="598" width="1" height="3" fill="#000"/>
<rect x="326" y="598" width="1" height="3" fill="#000"/>
<rect x="390" y="598" width="1" height="3" fill="#000"/>
<rect x="454" y="598" width="1" height="3" fill="#000"/>
<rect x="518" y="598" width="1" height="3" fill="#000"/>
<rect x="582" y="598" width="1" height="3" fill="#000"/>
<rect x="646" y="598" width="1" height="3" fill="#000"/>
<rect x="710" y="598" width="1" height="3" fill="#000"/>
<rect x="774" y="598" width="1" height="3" fill="#000"/>
<rect x="838" y="598" width="1" height="3" fill="#000"/>
<rect x="902" y="598" width="1" height="3" fill="#000"/>
<rect x="1158" y="227" width="41" height="11" fill="#000"/>
</g>
<g font-family="'Liberation Sans', sans-serif" style="white-space:pre;text-rendering:geometricPrecision">
<text x="21.5" y="44" font-size="10" fill="#000" stroke="#000" stroke-width="0.2" textLength="64.8" lengthAdjust="spacingAndGlyphs">AUDUSD,Daily</text>
<text x="93.3" y="44" font-size="10" fill="#000" stroke="#000" stroke-width="0.2" textLength="140" lengthAdjust="spacingAndGlyphs">0.71718 0.71801 0.71499 0.71581</text>
<text x="1162" y="61" font-size="10" fill="#000" stroke="#000" stroke-width="0.2" textLength="33" lengthAdjust="spacingAndGlyphs">0.73900</text>
<text x="1162" y="94" font-size="10" fill="#000" stroke="#000" stroke-width="0.2" textLength="33" lengthAdjust="spacingAndGlyphs">0.73460</text>
<text x="1162" y="127" font-size="10" fill="#000" stroke="#000" stroke-width="0.2" textLength="33" lengthAdjust="spacingAndGlyphs">0.73020</text>
<text x="1162" y="160" font-size="10" fill="#000" stroke="#000" stroke-width="0.2" textLength="33" lengthAdjust="spacingAndGlyphs">0.72580</text>
<text x="1162" y="193" font-size="10" fill="#000" stroke="#000" stroke-width="0.2" textLength="33" lengthAdjust="spacingAndGlyphs">0.72140</text>
<text x="1162" y="226" font-size="10" fill="#000" stroke="#000" stroke-width="0.2" textLength="33" lengthAdjust="spacingAndGlyphs">0.71710</text>
<text x="1162" y="259" font-size="10" fill="#000" stroke="#000" stroke-width="0.2" textLength="33" lengthAdjust="spacingAndGlyphs">0.71270</text>
<text x="1162" y="292" font-size="10" fill="#000" stroke="#000" stroke-width="0.2" textLength="33" lengthAdjust="spacingAndGlyphs">0.70830</text>
<text x="1162" y="325" font-size="10" fill="#000" stroke="#000" stroke-width="0.2" textLength="33" lengthAdjust="spacingAndGlyphs">0.70390</text>
<text x="1162" y="358" font-size="10" fill="#000" stroke="#000" stroke-width="0.2" textLength="33" lengthAdjust="spacingAndGlyphs">0.69950</text>
<text x="1162" y="391" font-size="10" fill="#000" stroke="#000" stroke-width="0.2" textLength="33" lengthAdjust="spacingAndGlyphs">0.69520</text>
<text x="1162" y="424" font-size="10" fill="#000" stroke="#000" stroke-width="0.2" textLength="33" lengthAdjust="spacingAndGlyphs">0.69080</text>
<text x="1162" y="457" font-size="10" fill="#000" stroke="#000" stroke-width="0.2" textLength="33" lengthAdjust="spacingAndGlyphs">0.68640</text>
<text x="1162" y="490" font-size="10" fill="#000" stroke="#000" stroke-width="0.2" textLength="33" lengthAdjust="spacingAndGlyphs">0.68200</text>
<text x="1162" y="236" font-size="10" fill="#fff" stroke="#fff" stroke-width="0.2" textLength="33" lengthAdjust="spacingAndGlyphs">0.71581</text>
<text x="10" y="504" font-size="10" fill="#000" stroke="#000" stroke-width="0.2" textLength="68" lengthAdjust="spacingAndGlyphs">RSI(14) 52.4465</text>
<text x="1160.0" y="502" font-size="10" fill="#000" stroke="#000" stroke-width="0.2" textLength="14.6" lengthAdjust="spacingAndGlyphs">100</text>
<text x="1159.6" y="528" font-size="10" fill="#000" stroke="#000" stroke-width="0.2" textLength="9.0" lengthAdjust="spacingAndGlyphs">70</text>
<text x="1159.6" y="569" font-size="10" fill="#000" stroke="#000" stroke-width="0.2" textLength="9.0" lengthAdjust="spacingAndGlyphs">30</text>
<text x="1159.8" y="594" font-size="10" fill="#000" stroke="#000" stroke-width="0.2" textLength="4.8" lengthAdjust="spacingAndGlyphs">0</text>
<text x="5.7" y="610" font-size="10" fill="#000" stroke="#000" stroke-width="0.2" textLength="50.2" lengthAdjust="spacingAndGlyphs">17 Oct 2018</text>
<text x="69.7" y="610" font-size="10" fill="#000" stroke="#000" stroke-width="0.2" textLength="50.2" lengthAdjust="spacingAndGlyphs">26 Oct 2018</text>
<text x="133.7" y="610" font-size="10" fill="#000" stroke="#000" stroke-width="0.2" textLength="48.2" lengthAdjust="spacingAndGlyphs">5 Nov 2018</text>
<text x="197.7" y="610" font-size="10" fill="#000" stroke="#000" stroke-width="0.2" textLength="53.1" lengthAdjust="spacingAndGlyphs">14 Nov 2018</text>
<text x="261.7" y="610" font-size="10" fill="#000" stroke="#000" stroke-width="0.2" textLength="53.1" lengthAdjust="spacingAndGlyphs">23 Nov 2018</text>
<text x="325.7" y="610" font-size="10" fill="#000" stroke="#000" stroke-width="0.2" textLength="46.1" lengthAdjust="spacingAndGlyphs">3 Dec 2018</text>
<text x="389.7" y="610" font-size="10" fill="#000" stroke="#000" stroke-width="0.2" textLength="51.1" lengthAdjust="spacingAndGlyphs">12 Dec 2018</text>
<text x="453.7" y="610" font-size="10" fill="#000" stroke="#000" stroke-width="0.2" textLength="51.1" lengthAdjust="spacingAndGlyphs">21 Dec 2018</text>
<text x="517.7" y="610" font-size="10" fill="#000" stroke="#000" stroke-width="0.2" textLength="51.4" lengthAdjust="spacingAndGlyphs">31 Dec 2018</text>
<text x="581.7" y="610" font-size="10" fill="#000" stroke="#000" stroke-width="0.2" textLength="44.4" lengthAdjust="spacingAndGlyphs">9 Jan 2019</text>
<text x="645.7" y="610" font-size="10" fill="#000" stroke="#000" stroke-width="0.2" textLength="49.2" lengthAdjust="spacingAndGlyphs">18 Jan 2019</text>
<text x="709.7" y="610" font-size="10" fill="#000" stroke="#000" stroke-width="0.2" textLength="49.2" lengthAdjust="spacingAndGlyphs">28 Jan 2019</text>
<text x="773.7" y="610" font-size="10" fill="#000" stroke="#000" stroke-width="0.2" textLength="46.2" lengthAdjust="spacingAndGlyphs">6 Feb 2019</text>
<text x="837.7" y="610" font-size="10" fill="#000" stroke="#000" stroke-width="0.2" textLength="51.2" lengthAdjust="spacingAndGlyphs">15 Feb 2019</text>
<text x="901.7" y="610" font-size="10" fill="#000" stroke="#000" stroke-width="0.2" textLength="51.0" lengthAdjust="spacingAndGlyphs">25 Feb 2019</text>
<text x="19.5" y="635" font-size="12.9" fill="#7d7d7d" stroke="#7d7d7d" stroke-width="0" textLength="79.5" lengthAdjust="spacingAndGlyphs">EURUSD,Daily</text>
<text x="122.4" y="635" font-size="12.9" fill="#000" stroke="#000" stroke-width="0" textLength="81.2" lengthAdjust="spacingAndGlyphs">AUDUSD,Daily</text>
<text x="225.4" y="635" font-size="12.9" fill="#7d7d7d" stroke="#7d7d7d" stroke-width="0" textLength="78.6" lengthAdjust="spacingAndGlyphs">USDCHF,Daily</text>
<text x="326.4" y="635" font-size="12.9" fill="#7d7d7d" stroke="#7d7d7d" stroke-width="0" textLength="80.6" lengthAdjust="spacingAndGlyphs">USDCAD,Daily</text>
<text x="430.4" y="635" font-size="12.9" fill="#7d7d7d" stroke="#7d7d7d" stroke-width="0" textLength="96.8" lengthAdjust="spacingAndGlyphs">USDCNH,Weekly</text>
<text x="550.1" y="635" font-size="12.9" fill="#7d7d7d" stroke="#7d7d7d" stroke-width="0" textLength="88.8" lengthAdjust="spacingAndGlyphs">USDJPY,Weekly</text>
<text x="662.0" y="635" font-size="12.9" fill="#7d7d7d" stroke="#7d7d7d" stroke-width="0" textLength="69.0" lengthAdjust="spacingAndGlyphs">XAUUSD,H4</text>
<text x="755.5" y="635" font-size="12.9" fill="#7d7d7d" stroke="#7d7d7d" stroke-width="0" textLength="79.5" lengthAdjust="spacingAndGlyphs">GBPUSD,Daily</text>
<text x="859.0" y="635" font-size="12.9" fill="#7d7d7d" stroke="#7d7d7d" stroke-width="0" textLength="63.3" lengthAdjust="spacingAndGlyphs">SP500,M15</text>
<text x="947.4" y="635" font-size="12.9" fill="#7d7d7d" stroke="#7d7d7d" stroke-width="0" textLength="67.1" lengthAdjust="spacingAndGlyphs">GBPUSD,H1</text>
<text x="1037.7" y="635" font-size="12.9" fill="#7d7d7d" stroke="#7d7d7d" stroke-width="0" textLength="45.3" lengthAdjust="spacingAndGlyphs">DJ30,H4</text>
<g clip-path="url(#ct)">
<text x="1106.2" y="635" font-size="12.9" fill="#7d7d7d" stroke="#7d7d7d" stroke-width="0" textLength="69.0" lengthAdjust="spacingAndGlyphs">TECH100,H4</text>
</g>
</g>
</svg>
<svg class="a" style="left:0;top:0;will-change:transform" width="200" height="28" viewBox="0 0 200 28"><g font-family="'Liberation Sans', sans-serif" style="text-rendering:geometricPrecision"><text x="5.5" y="20" font-size="10" fill="#404040" textLength="17.6" lengthAdjust="spacingAndGlyphs">M30</text><text x="36.5" y="20" font-size="10" fill="#404040" textLength="12.1" lengthAdjust="spacingAndGlyphs">H1</text><text x="63.9" y="20" font-size="10" fill="#404040" textLength="12.3" lengthAdjust="spacingAndGlyphs">H4</text><text x="92.7" y="20" font-size="10" fill="#404040" textLength="11.5" lengthAdjust="spacingAndGlyphs">D1</text><text x="119.9" y="20" font-size="10" fill="#404040" textLength="14.3" lengthAdjust="spacingAndGlyphs">W1</text><text x="146.8" y="20" font-size="10" fill="#404040" textLength="14.5" lengthAdjust="spacingAndGlyphs">MN</text></g></svg>
</body></html>
